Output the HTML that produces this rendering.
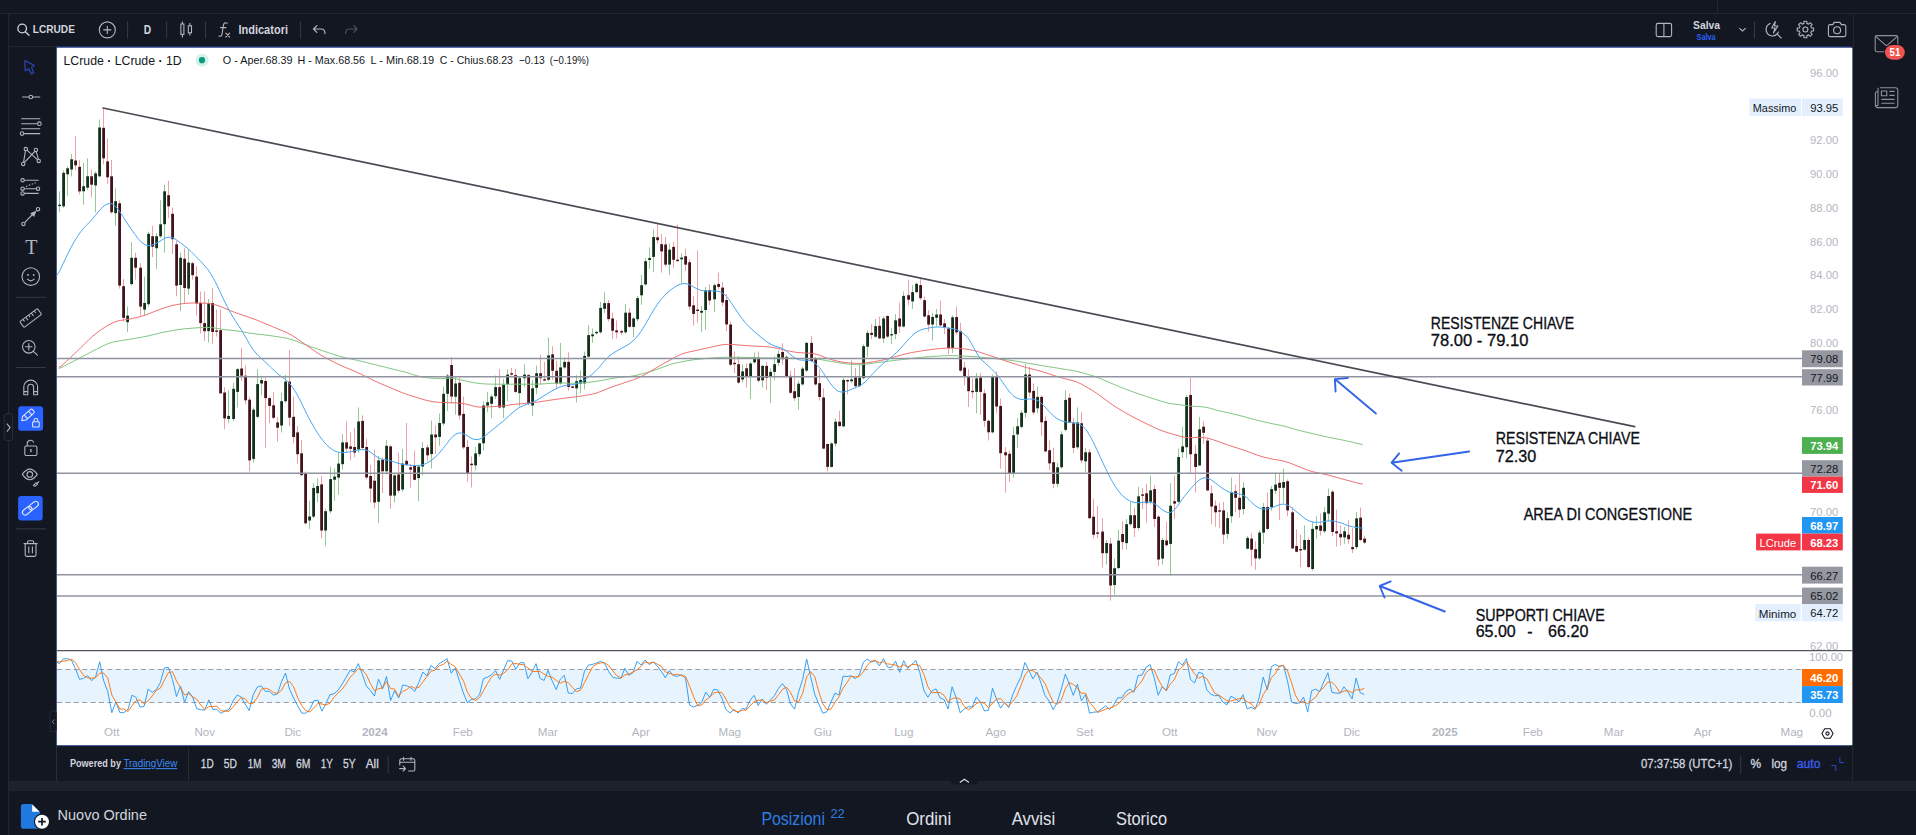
<!DOCTYPE html>
<html lang="it">
<head>
<meta charset="utf-8">
<title>LCRUDE - Grafico</title>
<style>
html,body{margin:0;padding:0;background:#131722;}
body{width:1916px;height:835px;overflow:hidden;position:relative;font-family:"Liberation Sans",sans-serif;}
#app{position:absolute;left:0;top:0;width:1916px;height:835px;background:#131722;overflow:hidden;}
.strip-left{position:absolute;left:0;top:13.5px;width:8px;height:822px;background:#10141d;border-right:1px solid #222631;}
.titlebar{position:absolute;left:0;top:0;width:1916px;height:13px;border-bottom:1px solid #222631;}
.titlebar i{position:absolute;left:1717px;top:0;width:1px;height:13px;background:#222631;}
.topbar{position:absolute;left:9px;top:14px;width:1844px;height:32px;border-bottom:1px solid #222631;border-right:1px solid #222631;}
.leftbar{position:absolute;left:9px;top:47px;width:47px;height:734px;}
.bottombar{position:absolute;left:55.5px;top:746px;width:1797px;height:35px;border-left:1px solid #2a2e39;border-right:1px solid #222631;box-sizing:border-box;}
.resize{position:absolute;left:9px;top:781px;width:1907px;height:10px;background:#1e222d;}
.panel{position:absolute;left:9px;top:791px;width:1907px;height:44px;}
svg.chart{position:absolute;left:0;top:0;}
</style>
</head>
<body>
<div id="app">
<div class="titlebar"><i></i></div>
<div class="strip-left"></div>
<div class="topbar"></div>
<div class="leftbar"></div>
<div class="bottombar"></div>
<div class="resize"></div>
<div class="panel"></div>
<svg class="chart" width="1916" height="835" viewBox="0 0 1916 835" font-family="'Liberation Sans', sans-serif">
<rect x="56.1" y="46.2" width="1794.9" height="700" fill="#1b3278"/>
<rect x="56.8" y="47.7" width="1795.6" height="697.5" fill="#ffffff"/>
<rect x="57" y="669" width="1745" height="33.5" fill="#e8f4fd"/>
<line x1="57" y1="669.5" x2="1802" y2="669.5" stroke="#9a9da7" stroke-width="1" stroke-dasharray="5 3.4"/>
<line x1="57" y1="702.5" x2="1802" y2="702.5" stroke="#9a9da7" stroke-width="1" stroke-dasharray="5 3.4"/>
<rect x="59" y="191.3" width="1" height="21.0" fill="#93c997"/>
<rect x="58.2" y="204.7" width="2.8" height="1.4" fill="#12301a"/>
<rect x="63" y="170.4" width="1" height="37.4" fill="#93c997"/>
<rect x="62.2" y="172.8" width="2.8" height="33.5" fill="#12301a"/>
<rect x="67" y="166.5" width="1" height="29.3" fill="#93c997"/>
<rect x="66.2" y="168.3" width="2.8" height="6.0" fill="#12301a"/>
<rect x="71" y="153.9" width="1" height="22.5" fill="#93c997"/>
<rect x="70.2" y="159.3" width="2.8" height="10.2" fill="#12301a"/>
<rect x="75" y="135.9" width="1" height="34.4" fill="#eea0a6"/>
<rect x="74.2" y="160.5" width="2.8" height="4.8" fill="#42131b"/>
<rect x="79" y="159.9" width="1" height="34.4" fill="#eea0a6"/>
<rect x="78.2" y="166.8" width="2.8" height="24.6" fill="#42131b"/>
<rect x="83" y="162.9" width="1" height="41.9" fill="#93c997"/>
<rect x="82.2" y="186.2" width="2.8" height="5.1" fill="#12301a"/>
<rect x="87" y="158.4" width="1" height="31.4" fill="#93c997"/>
<rect x="86.2" y="176.3" width="2.8" height="11.4" fill="#12301a"/>
<rect x="91" y="169.5" width="1" height="27.8" fill="#eea0a6"/>
<rect x="90.2" y="176.3" width="2.8" height="8.4" fill="#42131b"/>
<rect x="95" y="171.3" width="1" height="41.0" fill="#93c997"/>
<rect x="94.2" y="173.4" width="2.8" height="12.0" fill="#12301a"/>
<rect x="99" y="119.5" width="1" height="57.8" fill="#93c997"/>
<rect x="98.2" y="127.5" width="2.8" height="48.8" fill="#12301a"/>
<rect x="103" y="108.4" width="1" height="56.0" fill="#eea0a6"/>
<rect x="102.2" y="127.8" width="2.8" height="30.5" fill="#42131b"/>
<rect x="107" y="138.3" width="1" height="45.5" fill="#eea0a6"/>
<rect x="106.2" y="161.4" width="2.8" height="15.9" fill="#42131b"/>
<rect x="111" y="159.9" width="1" height="53.9" fill="#eea0a6"/>
<rect x="110.2" y="176.3" width="2.8" height="35.9" fill="#42131b"/>
<rect x="115" y="188.3" width="1" height="37.4" fill="#93c997"/>
<rect x="114.2" y="201.2" width="2.8" height="12.0" fill="#12301a"/>
<rect x="119" y="200.3" width="1" height="88.3" fill="#eea0a6"/>
<rect x="118.2" y="203.3" width="2.8" height="82.3" fill="#42131b"/>
<rect x="123" y="279.0" width="1" height="42.5" fill="#eea0a6"/>
<rect x="122.2" y="286.2" width="2.8" height="31.7" fill="#42131b"/>
<rect x="127" y="306.6" width="1" height="25.4" fill="#93c997"/>
<rect x="126.2" y="315.6" width="2.8" height="6.6" fill="#12301a"/>
<rect x="131" y="242.2" width="1" height="43.4" fill="#93c997"/>
<rect x="130.2" y="257.8" width="2.8" height="26.3" fill="#12301a"/>
<rect x="135" y="252.7" width="1" height="26.9" fill="#eea0a6"/>
<rect x="134.2" y="257.8" width="2.8" height="9.9" fill="#42131b"/>
<rect x="140" y="263.2" width="1" height="52.4" fill="#eea0a6"/>
<rect x="139.2" y="267.7" width="2.8" height="38.9" fill="#42131b"/>
<rect x="144" y="276.6" width="1" height="38.9" fill="#93c997"/>
<rect x="143.2" y="303.0" width="2.8" height="6.6" fill="#12301a"/>
<rect x="148" y="231.7" width="1" height="74.9" fill="#93c997"/>
<rect x="147.2" y="233.8" width="2.8" height="70.4" fill="#12301a"/>
<rect x="152" y="225.7" width="1" height="31.4" fill="#eea0a6"/>
<rect x="151.2" y="236.2" width="2.8" height="10.5" fill="#42131b"/>
<rect x="156" y="233.2" width="1" height="35.9" fill="#93c997"/>
<rect x="155.2" y="236.2" width="2.8" height="12.0" fill="#12301a"/>
<rect x="160" y="200.3" width="1" height="37.4" fill="#93c997"/>
<rect x="159.2" y="224.3" width="2.8" height="12.0" fill="#12301a"/>
<rect x="164" y="184.7" width="1" height="68.0" fill="#93c997"/>
<rect x="163.2" y="191.3" width="2.8" height="32.9" fill="#12301a"/>
<rect x="168" y="180.8" width="1" height="37.4" fill="#eea0a6"/>
<rect x="167.2" y="195.2" width="2.8" height="11.1" fill="#42131b"/>
<rect x="172" y="207.8" width="1" height="46.4" fill="#eea0a6"/>
<rect x="171.2" y="213.8" width="2.8" height="25.4" fill="#42131b"/>
<rect x="176" y="240.7" width="1" height="55.4" fill="#eea0a6"/>
<rect x="175.2" y="244.3" width="2.8" height="41.3" fill="#42131b"/>
<rect x="180" y="252.7" width="1" height="58.4" fill="#93c997"/>
<rect x="179.2" y="257.8" width="2.8" height="27.2" fill="#12301a"/>
<rect x="184" y="248.2" width="1" height="55.4" fill="#eea0a6"/>
<rect x="183.2" y="258.7" width="2.8" height="29.3" fill="#42131b"/>
<rect x="188" y="249.7" width="1" height="44.9" fill="#93c997"/>
<rect x="187.2" y="262.6" width="2.8" height="26.0" fill="#12301a"/>
<rect x="192" y="261.7" width="1" height="18.0" fill="#eea0a6"/>
<rect x="191.2" y="263.2" width="2.8" height="12.0" fill="#42131b"/>
<rect x="196" y="266.2" width="1" height="49.4" fill="#eea0a6"/>
<rect x="195.2" y="276.6" width="2.8" height="26.9" fill="#42131b"/>
<rect x="200" y="291.6" width="1" height="41.9" fill="#eea0a6"/>
<rect x="199.2" y="303.0" width="2.8" height="20.1" fill="#42131b"/>
<rect x="204" y="291.6" width="1" height="49.4" fill="#eea0a6"/>
<rect x="203.2" y="323.1" width="2.8" height="8.1" fill="#42131b"/>
<rect x="208" y="299.1" width="1" height="43.4" fill="#93c997"/>
<rect x="207.2" y="303.0" width="2.8" height="28.1" fill="#12301a"/>
<rect x="212" y="288.0" width="1" height="56.0" fill="#eea0a6"/>
<rect x="211.2" y="303.0" width="2.8" height="29.0" fill="#42131b"/>
<rect x="216" y="309.6" width="1" height="26.9" fill="#eea0a6"/>
<rect x="215.2" y="330.4" width="2.8" height="1.4" fill="#42131b"/>
<rect x="220" y="309.3" width="1" height="84.1" fill="#eea0a6"/>
<rect x="219.2" y="330.2" width="2.8" height="63.2" fill="#42131b"/>
<rect x="224" y="387.2" width="1" height="42.1" fill="#eea0a6"/>
<rect x="223.2" y="392.5" width="2.8" height="25.9" fill="#42131b"/>
<rect x="228" y="390.3" width="1" height="32.7" fill="#93c997"/>
<rect x="227.2" y="415.9" width="2.8" height="3.1" fill="#12301a"/>
<rect x="233" y="382.6" width="1" height="38.9" fill="#93c997"/>
<rect x="232.2" y="388.8" width="2.8" height="30.2" fill="#12301a"/>
<rect x="237" y="367.9" width="1" height="39.6" fill="#93c997"/>
<rect x="236.2" y="369.2" width="2.8" height="22.7" fill="#12301a"/>
<rect x="241" y="348.3" width="1" height="32.7" fill="#eea0a6"/>
<rect x="240.2" y="368.5" width="2.8" height="7.2" fill="#42131b"/>
<rect x="245" y="365.4" width="1" height="38.9" fill="#eea0a6"/>
<rect x="244.2" y="375.7" width="2.8" height="24.6" fill="#42131b"/>
<rect x="249" y="396.6" width="1" height="74.8" fill="#eea0a6"/>
<rect x="248.2" y="399.7" width="2.8" height="60.7" fill="#42131b"/>
<rect x="253" y="407.5" width="1" height="55.1" fill="#93c997"/>
<rect x="252.2" y="409.7" width="2.8" height="49.2" fill="#12301a"/>
<rect x="257" y="369.2" width="1" height="49.2" fill="#93c997"/>
<rect x="256.2" y="384.1" width="2.8" height="32.7" fill="#12301a"/>
<rect x="261" y="376.3" width="1" height="18.7" fill="#93c997"/>
<rect x="260.2" y="380.1" width="2.8" height="3.4" fill="#12301a"/>
<rect x="265" y="377.9" width="1" height="70.1" fill="#eea0a6"/>
<rect x="264.2" y="381.0" width="2.8" height="17.1" fill="#42131b"/>
<rect x="269" y="396.6" width="1" height="26.5" fill="#eea0a6"/>
<rect x="268.2" y="398.1" width="2.8" height="7.8" fill="#42131b"/>
<rect x="273" y="391.9" width="1" height="27.1" fill="#eea0a6"/>
<rect x="272.2" y="405.3" width="2.8" height="12.5" fill="#42131b"/>
<rect x="277" y="416.8" width="1" height="24.9" fill="#eea0a6"/>
<rect x="276.2" y="422.4" width="2.8" height="5.3" fill="#42131b"/>
<rect x="281" y="392.8" width="1" height="39.6" fill="#93c997"/>
<rect x="280.2" y="401.2" width="2.8" height="24.3" fill="#12301a"/>
<rect x="285" y="374.8" width="1" height="28.0" fill="#93c997"/>
<rect x="284.2" y="381.6" width="2.8" height="19.6" fill="#12301a"/>
<rect x="289" y="349.8" width="1" height="76.3" fill="#eea0a6"/>
<rect x="288.2" y="381.6" width="2.8" height="36.1" fill="#42131b"/>
<rect x="293" y="396.6" width="1" height="46.7" fill="#eea0a6"/>
<rect x="292.2" y="416.8" width="2.8" height="20.2" fill="#42131b"/>
<rect x="297" y="426.2" width="1" height="37.4" fill="#eea0a6"/>
<rect x="296.2" y="432.4" width="2.8" height="21.8" fill="#42131b"/>
<rect x="301" y="440.2" width="1" height="35.8" fill="#eea0a6"/>
<rect x="300.2" y="453.3" width="2.8" height="21.8" fill="#42131b"/>
<rect x="305" y="471.3" width="1" height="53.0" fill="#eea0a6"/>
<rect x="304.2" y="473.5" width="2.8" height="49.8" fill="#42131b"/>
<rect x="309" y="500.9" width="1" height="28.0" fill="#93c997"/>
<rect x="308.2" y="516.5" width="2.8" height="4.0" fill="#12301a"/>
<rect x="313" y="483.2" width="1" height="34.9" fill="#93c997"/>
<rect x="312.2" y="487.9" width="2.8" height="28.7" fill="#12301a"/>
<rect x="317" y="478.2" width="1" height="24.3" fill="#93c997"/>
<rect x="316.2" y="486.0" width="2.8" height="7.2" fill="#12301a"/>
<rect x="321" y="476.0" width="1" height="62.3" fill="#eea0a6"/>
<rect x="320.2" y="484.4" width="2.8" height="46.1" fill="#42131b"/>
<rect x="325" y="508.7" width="1" height="37.4" fill="#93c997"/>
<rect x="324.2" y="511.2" width="2.8" height="19.3" fill="#12301a"/>
<rect x="330" y="466.7" width="1" height="46.7" fill="#93c997"/>
<rect x="329.2" y="479.1" width="2.8" height="32.1" fill="#12301a"/>
<rect x="334" y="468.2" width="1" height="32.7" fill="#93c997"/>
<rect x="333.2" y="476.6" width="2.8" height="3.1" fill="#12301a"/>
<rect x="338" y="452.6" width="1" height="42.1" fill="#93c997"/>
<rect x="337.2" y="463.6" width="2.8" height="14.0" fill="#12301a"/>
<rect x="342" y="434.0" width="1" height="35.8" fill="#93c997"/>
<rect x="341.2" y="442.4" width="2.8" height="21.8" fill="#12301a"/>
<rect x="346" y="421.5" width="1" height="31.2" fill="#eea0a6"/>
<rect x="345.2" y="442.4" width="2.8" height="6.2" fill="#42131b"/>
<rect x="350" y="432.4" width="1" height="28.0" fill="#eea0a6"/>
<rect x="349.2" y="446.4" width="2.8" height="2.5" fill="#42131b"/>
<rect x="354" y="427.7" width="1" height="29.6" fill="#eea0a6"/>
<rect x="353.2" y="447.0" width="2.8" height="5.6" fill="#42131b"/>
<rect x="358" y="407.5" width="1" height="45.2" fill="#93c997"/>
<rect x="357.2" y="421.5" width="2.8" height="28.0" fill="#12301a"/>
<rect x="362" y="415.3" width="1" height="34.3" fill="#eea0a6"/>
<rect x="361.2" y="420.9" width="2.8" height="27.1" fill="#42131b"/>
<rect x="366" y="438.6" width="1" height="40.5" fill="#eea0a6"/>
<rect x="365.2" y="447.0" width="2.8" height="30.5" fill="#42131b"/>
<rect x="370" y="465.1" width="1" height="37.4" fill="#eea0a6"/>
<rect x="369.2" y="476.0" width="2.8" height="12.5" fill="#42131b"/>
<rect x="374" y="449.5" width="1" height="59.2" fill="#eea0a6"/>
<rect x="373.2" y="480.7" width="2.8" height="21.8" fill="#42131b"/>
<rect x="378" y="455.8" width="1" height="67.0" fill="#93c997"/>
<rect x="377.2" y="460.4" width="2.8" height="41.4" fill="#12301a"/>
<rect x="382" y="457.3" width="1" height="35.8" fill="#eea0a6"/>
<rect x="381.2" y="459.8" width="2.8" height="11.5" fill="#42131b"/>
<rect x="386" y="440.2" width="1" height="34.3" fill="#93c997"/>
<rect x="385.2" y="445.8" width="2.8" height="25.5" fill="#12301a"/>
<rect x="390" y="444.9" width="1" height="63.9" fill="#eea0a6"/>
<rect x="389.2" y="446.4" width="2.8" height="49.2" fill="#42131b"/>
<rect x="394" y="472.9" width="1" height="29.6" fill="#93c997"/>
<rect x="393.2" y="475.4" width="2.8" height="20.2" fill="#12301a"/>
<rect x="398" y="452.6" width="1" height="40.5" fill="#eea0a6"/>
<rect x="397.2" y="474.5" width="2.8" height="16.2" fill="#42131b"/>
<rect x="402" y="448.9" width="1" height="42.7" fill="#93c997"/>
<rect x="401.2" y="463.6" width="2.8" height="25.9" fill="#12301a"/>
<rect x="406" y="423.0" width="1" height="43.1" fill="#eea0a6"/>
<rect x="405.2" y="460.8" width="2.8" height="4.1" fill="#42131b"/>
<rect x="410" y="463.7" width="1" height="24.0" fill="#eea0a6"/>
<rect x="409.2" y="467.3" width="2.8" height="2.4" fill="#42131b"/>
<rect x="414" y="450.5" width="1" height="29.9" fill="#eea0a6"/>
<rect x="413.2" y="465.4" width="2.8" height="14.4" fill="#42131b"/>
<rect x="418" y="464.9" width="1" height="36.4" fill="#93c997"/>
<rect x="417.2" y="466.6" width="2.8" height="11.5" fill="#12301a"/>
<rect x="422" y="442.2" width="1" height="33.5" fill="#93c997"/>
<rect x="421.2" y="448.1" width="2.8" height="18.4" fill="#12301a"/>
<rect x="427" y="444.6" width="1" height="16.8" fill="#eea0a6"/>
<rect x="426.2" y="447.4" width="2.8" height="7.9" fill="#42131b"/>
<rect x="431" y="420.6" width="1" height="47.9" fill="#93c997"/>
<rect x="430.2" y="434.5" width="2.8" height="19.6" fill="#12301a"/>
<rect x="435" y="425.4" width="1" height="28.7" fill="#eea0a6"/>
<rect x="434.2" y="434.5" width="2.8" height="2.9" fill="#42131b"/>
<rect x="439" y="413.4" width="1" height="32.3" fill="#93c997"/>
<rect x="438.2" y="423.0" width="2.8" height="13.9" fill="#12301a"/>
<rect x="443" y="386.6" width="1" height="38.8" fill="#93c997"/>
<rect x="442.2" y="393.8" width="2.8" height="29.7" fill="#12301a"/>
<rect x="447" y="373.9" width="1" height="37.1" fill="#93c997"/>
<rect x="446.2" y="375.6" width="2.8" height="18.2" fill="#12301a"/>
<rect x="451" y="357.1" width="1" height="46.7" fill="#eea0a6"/>
<rect x="450.2" y="365.0" width="2.8" height="31.6" fill="#42131b"/>
<rect x="455" y="377.5" width="1" height="37.1" fill="#93c997"/>
<rect x="454.2" y="383.5" width="2.8" height="13.2" fill="#12301a"/>
<rect x="459" y="377.5" width="1" height="41.9" fill="#eea0a6"/>
<rect x="458.2" y="382.8" width="2.8" height="32.6" fill="#42131b"/>
<rect x="463" y="396.6" width="1" height="52.7" fill="#eea0a6"/>
<rect x="462.2" y="413.9" width="2.8" height="33.5" fill="#42131b"/>
<rect x="467" y="439.8" width="1" height="41.9" fill="#eea0a6"/>
<rect x="466.2" y="446.9" width="2.8" height="26.3" fill="#42131b"/>
<rect x="471" y="456.5" width="1" height="31.1" fill="#eea0a6"/>
<rect x="470.2" y="463.7" width="2.8" height="1.4" fill="#42131b"/>
<rect x="475" y="446.9" width="1" height="23.5" fill="#93c997"/>
<rect x="474.2" y="453.4" width="2.8" height="12.0" fill="#12301a"/>
<rect x="479" y="442.6" width="1" height="13.9" fill="#93c997"/>
<rect x="478.2" y="443.4" width="2.8" height="10.8" fill="#12301a"/>
<rect x="483" y="401.4" width="1" height="49.1" fill="#93c997"/>
<rect x="482.2" y="405.5" width="2.8" height="37.8" fill="#12301a"/>
<rect x="487" y="391.9" width="1" height="20.4" fill="#93c997"/>
<rect x="486.2" y="402.2" width="2.8" height="3.4" fill="#12301a"/>
<rect x="491" y="394.3" width="1" height="24.0" fill="#93c997"/>
<rect x="490.2" y="396.6" width="2.8" height="7.2" fill="#12301a"/>
<rect x="495" y="375.6" width="1" height="23.5" fill="#93c997"/>
<rect x="494.2" y="387.1" width="2.8" height="9.1" fill="#12301a"/>
<rect x="499" y="369.1" width="1" height="39.5" fill="#eea0a6"/>
<rect x="498.2" y="387.1" width="2.8" height="20.4" fill="#42131b"/>
<rect x="503" y="378.7" width="1" height="39.5" fill="#93c997"/>
<rect x="502.2" y="384.7" width="2.8" height="22.8" fill="#12301a"/>
<rect x="507" y="369.1" width="1" height="32.3" fill="#93c997"/>
<rect x="506.2" y="374.6" width="2.8" height="9.6" fill="#12301a"/>
<rect x="511" y="367.9" width="1" height="7.7" fill="#eea0a6"/>
<rect x="510.2" y="373.2" width="2.8" height="1.4" fill="#42131b"/>
<rect x="515" y="369.1" width="1" height="24.0" fill="#eea0a6"/>
<rect x="514.2" y="375.1" width="2.8" height="16.8" fill="#42131b"/>
<rect x="519" y="376.3" width="1" height="29.9" fill="#93c997"/>
<rect x="518.2" y="378.2" width="2.8" height="14.9" fill="#12301a"/>
<rect x="524" y="364.3" width="1" height="22.8" fill="#93c997"/>
<rect x="523.2" y="374.6" width="2.8" height="3.6" fill="#12301a"/>
<rect x="528" y="373.9" width="1" height="31.1" fill="#eea0a6"/>
<rect x="527.2" y="375.1" width="2.8" height="28.7" fill="#42131b"/>
<rect x="532" y="379.9" width="1" height="35.9" fill="#93c997"/>
<rect x="531.2" y="388.3" width="2.8" height="17.2" fill="#12301a"/>
<rect x="536" y="365.5" width="1" height="28.7" fill="#93c997"/>
<rect x="535.2" y="373.2" width="2.8" height="14.6" fill="#12301a"/>
<rect x="540" y="354.7" width="1" height="29.9" fill="#eea0a6"/>
<rect x="539.2" y="373.2" width="2.8" height="5.0" fill="#42131b"/>
<rect x="544" y="361.9" width="1" height="19.2" fill="#eea0a6"/>
<rect x="543.2" y="379.2" width="2.8" height="1.4" fill="#42131b"/>
<rect x="548" y="337.5" width="1" height="43.6" fill="#93c997"/>
<rect x="547.2" y="355.4" width="2.8" height="24.4" fill="#12301a"/>
<rect x="552" y="346.3" width="1" height="33.5" fill="#eea0a6"/>
<rect x="551.2" y="354.3" width="2.8" height="16.5" fill="#42131b"/>
<rect x="556" y="360.7" width="1" height="28.7" fill="#eea0a6"/>
<rect x="555.2" y="370.8" width="2.8" height="12.7" fill="#42131b"/>
<rect x="560" y="342.8" width="1" height="41.9" fill="#93c997"/>
<rect x="559.2" y="367.4" width="2.8" height="16.0" fill="#12301a"/>
<rect x="564" y="358.3" width="1" height="10.8" fill="#93c997"/>
<rect x="563.2" y="361.9" width="2.8" height="5.5" fill="#12301a"/>
<rect x="568" y="352.3" width="1" height="38.3" fill="#eea0a6"/>
<rect x="567.2" y="361.9" width="2.8" height="25.1" fill="#42131b"/>
<rect x="572" y="385.9" width="1" height="2.4" fill="#eea0a6"/>
<rect x="571.2" y="386.4" width="2.8" height="1.4" fill="#42131b"/>
<rect x="576" y="375.1" width="1" height="27.5" fill="#93c997"/>
<rect x="575.2" y="381.1" width="2.8" height="7.2" fill="#12301a"/>
<rect x="580" y="370.3" width="1" height="22.8" fill="#93c997"/>
<rect x="579.2" y="379.9" width="2.8" height="3.6" fill="#12301a"/>
<rect x="584" y="351.6" width="1" height="37.8" fill="#93c997"/>
<rect x="583.2" y="355.9" width="2.8" height="27.5" fill="#12301a"/>
<rect x="588" y="325.3" width="1" height="31.9" fill="#93c997"/>
<rect x="587.2" y="335.1" width="2.8" height="21.6" fill="#12301a"/>
<rect x="592" y="328.4" width="1" height="14.4" fill="#93c997"/>
<rect x="591.2" y="334.4" width="2.8" height="1.9" fill="#12301a"/>
<rect x="596" y="330.8" width="1" height="3.6" fill="#93c997"/>
<rect x="595.2" y="331.9" width="2.8" height="1.4" fill="#12301a"/>
<rect x="600" y="301.7" width="1" height="31.9" fill="#93c997"/>
<rect x="599.2" y="307.9" width="2.8" height="24.4" fill="#12301a"/>
<rect x="604" y="292.1" width="1" height="21.1" fill="#93c997"/>
<rect x="603.2" y="303.1" width="2.8" height="5.7" fill="#12301a"/>
<rect x="608" y="300.0" width="1" height="21.6" fill="#eea0a6"/>
<rect x="607.2" y="303.1" width="2.8" height="16.0" fill="#42131b"/>
<rect x="612" y="312.7" width="1" height="26.3" fill="#eea0a6"/>
<rect x="611.2" y="318.5" width="2.8" height="12.2" fill="#42131b"/>
<rect x="616" y="320.4" width="1" height="18.0" fill="#eea0a6"/>
<rect x="615.2" y="330.4" width="2.8" height="1.9" fill="#42131b"/>
<rect x="621" y="329.5" width="1" height="5.3" fill="#eea0a6"/>
<rect x="620.2" y="331.1" width="2.8" height="1.4" fill="#42131b"/>
<rect x="625" y="304.1" width="1" height="29.5" fill="#93c997"/>
<rect x="624.2" y="312.7" width="2.8" height="19.6" fill="#12301a"/>
<rect x="629" y="308.4" width="1" height="19.2" fill="#eea0a6"/>
<rect x="628.2" y="312.7" width="2.8" height="14.1" fill="#42131b"/>
<rect x="633" y="316.8" width="1" height="20.4" fill="#93c997"/>
<rect x="632.2" y="318.5" width="2.8" height="8.4" fill="#12301a"/>
<rect x="637" y="296.0" width="1" height="25.6" fill="#93c997"/>
<rect x="636.2" y="298.1" width="2.8" height="21.1" fill="#12301a"/>
<rect x="641" y="274.9" width="1" height="29.9" fill="#93c997"/>
<rect x="640.2" y="285.2" width="2.8" height="10.1" fill="#12301a"/>
<rect x="645" y="258.1" width="1" height="27.5" fill="#93c997"/>
<rect x="644.2" y="261.2" width="2.8" height="23.2" fill="#12301a"/>
<rect x="649" y="247.3" width="1" height="21.6" fill="#93c997"/>
<rect x="648.2" y="258.1" width="2.8" height="1.9" fill="#12301a"/>
<rect x="653" y="229.4" width="1" height="42.6" fill="#93c997"/>
<rect x="652.2" y="237.0" width="2.8" height="19.9" fill="#12301a"/>
<rect x="657" y="223.4" width="1" height="20.4" fill="#eea0a6"/>
<rect x="656.2" y="237.3" width="2.8" height="2.9" fill="#42131b"/>
<rect x="661" y="233.7" width="1" height="38.8" fill="#eea0a6"/>
<rect x="660.2" y="244.2" width="2.8" height="7.2" fill="#42131b"/>
<rect x="665" y="237.0" width="1" height="29.5" fill="#eea0a6"/>
<rect x="664.2" y="244.5" width="2.8" height="20.1" fill="#42131b"/>
<rect x="669" y="243.7" width="1" height="31.1" fill="#93c997"/>
<rect x="668.2" y="249.7" width="2.8" height="14.9" fill="#12301a"/>
<rect x="673" y="241.8" width="1" height="25.9" fill="#eea0a6"/>
<rect x="672.2" y="246.9" width="2.8" height="12.9" fill="#42131b"/>
<rect x="677" y="224.6" width="1" height="37.1" fill="#eea0a6"/>
<rect x="676.2" y="259.7" width="2.8" height="1.4" fill="#42131b"/>
<rect x="681" y="253.3" width="1" height="29.9" fill="#93c997"/>
<rect x="680.2" y="257.6" width="2.8" height="1.7" fill="#12301a"/>
<rect x="685" y="248.5" width="1" height="22.8" fill="#eea0a6"/>
<rect x="684.2" y="256.2" width="2.8" height="8.4" fill="#42131b"/>
<rect x="689" y="259.3" width="1" height="50.3" fill="#eea0a6"/>
<rect x="688.2" y="262.2" width="2.8" height="44.3" fill="#42131b"/>
<rect x="693" y="296.4" width="1" height="29.2" fill="#eea0a6"/>
<rect x="692.2" y="305.3" width="2.8" height="8.6" fill="#42131b"/>
<rect x="697" y="250.4" width="1" height="72.3" fill="#eea0a6"/>
<rect x="696.2" y="309.6" width="2.8" height="1.4" fill="#42131b"/>
<rect x="701" y="306.0" width="1" height="26.3" fill="#93c997"/>
<rect x="700.2" y="310.8" width="2.8" height="1.9" fill="#12301a"/>
<rect x="705" y="286.9" width="1" height="43.1" fill="#93c997"/>
<rect x="704.2" y="290.4" width="2.8" height="19.6" fill="#12301a"/>
<rect x="709" y="284.5" width="1" height="20.4" fill="#eea0a6"/>
<rect x="708.2" y="290.0" width="2.8" height="10.5" fill="#42131b"/>
<rect x="714" y="283.3" width="1" height="28.7" fill="#93c997"/>
<rect x="713.2" y="285.2" width="2.8" height="14.1" fill="#12301a"/>
<rect x="718" y="272.5" width="1" height="16.8" fill="#eea0a6"/>
<rect x="717.2" y="284.0" width="2.8" height="2.9" fill="#42131b"/>
<rect x="722" y="282.1" width="1" height="24.0" fill="#eea0a6"/>
<rect x="721.2" y="287.6" width="2.8" height="14.9" fill="#42131b"/>
<rect x="726" y="294.0" width="1" height="37.1" fill="#eea0a6"/>
<rect x="725.2" y="300.0" width="2.8" height="24.4" fill="#42131b"/>
<rect x="730" y="321.6" width="1" height="44.3" fill="#eea0a6"/>
<rect x="729.2" y="324.5" width="2.8" height="40.2" fill="#42131b"/>
<rect x="734" y="351.5" width="1" height="21.6" fill="#eea0a6"/>
<rect x="733.2" y="362.8" width="2.8" height="1.4" fill="#42131b"/>
<rect x="738" y="356.3" width="1" height="27.5" fill="#eea0a6"/>
<rect x="737.2" y="364.2" width="2.8" height="18.4" fill="#42131b"/>
<rect x="742" y="364.7" width="1" height="18.0" fill="#93c997"/>
<rect x="741.2" y="371.4" width="2.8" height="8.1" fill="#12301a"/>
<rect x="746" y="363.5" width="1" height="24.0" fill="#eea0a6"/>
<rect x="745.2" y="368.3" width="2.8" height="8.4" fill="#42131b"/>
<rect x="750" y="361.6" width="1" height="37.4" fill="#93c997"/>
<rect x="749.2" y="363.5" width="2.8" height="13.2" fill="#12301a"/>
<rect x="754" y="352.7" width="1" height="10.8" fill="#93c997"/>
<rect x="753.2" y="357.5" width="2.8" height="4.8" fill="#12301a"/>
<rect x="758" y="351.5" width="1" height="30.7" fill="#eea0a6"/>
<rect x="757.2" y="357.5" width="2.8" height="23.2" fill="#42131b"/>
<rect x="762" y="364.7" width="1" height="22.8" fill="#93c997"/>
<rect x="761.2" y="365.9" width="2.8" height="14.4" fill="#12301a"/>
<rect x="766" y="361.6" width="1" height="28.3" fill="#eea0a6"/>
<rect x="765.2" y="365.9" width="2.8" height="12.0" fill="#42131b"/>
<rect x="770" y="368.3" width="1" height="34.7" fill="#93c997"/>
<rect x="769.2" y="371.9" width="2.8" height="4.1" fill="#12301a"/>
<rect x="774" y="356.3" width="1" height="24.0" fill="#93c997"/>
<rect x="773.2" y="364.2" width="2.8" height="7.7" fill="#12301a"/>
<rect x="778" y="350.3" width="1" height="15.6" fill="#93c997"/>
<rect x="777.2" y="353.9" width="2.8" height="8.9" fill="#12301a"/>
<rect x="782" y="343.1" width="1" height="21.6" fill="#eea0a6"/>
<rect x="781.2" y="352.0" width="2.8" height="7.2" fill="#42131b"/>
<rect x="786" y="355.5" width="1" height="22.6" fill="#eea0a6"/>
<rect x="785.2" y="356.8" width="2.8" height="20.1" fill="#42131b"/>
<rect x="790" y="370.6" width="1" height="23.1" fill="#eea0a6"/>
<rect x="789.2" y="375.9" width="2.8" height="16.9" fill="#42131b"/>
<rect x="794" y="368.1" width="1" height="32.7" fill="#eea0a6"/>
<rect x="793.2" y="391.2" width="2.8" height="7.0" fill="#42131b"/>
<rect x="798" y="380.7" width="1" height="28.9" fill="#93c997"/>
<rect x="797.2" y="383.7" width="2.8" height="13.3" fill="#12301a"/>
<rect x="802" y="366.8" width="1" height="18.9" fill="#93c997"/>
<rect x="801.2" y="368.6" width="2.8" height="15.8" fill="#12301a"/>
<rect x="806" y="341.7" width="1" height="30.2" fill="#93c997"/>
<rect x="805.2" y="342.9" width="2.8" height="27.7" fill="#12301a"/>
<rect x="811" y="335.9" width="1" height="25.9" fill="#eea0a6"/>
<rect x="810.2" y="342.9" width="2.8" height="18.1" fill="#42131b"/>
<rect x="815" y="356.8" width="1" height="28.9" fill="#eea0a6"/>
<rect x="814.2" y="358.5" width="2.8" height="25.9" fill="#42131b"/>
<rect x="819" y="369.3" width="1" height="31.4" fill="#eea0a6"/>
<rect x="818.2" y="383.2" width="2.8" height="13.8" fill="#42131b"/>
<rect x="823" y="388.2" width="1" height="60.9" fill="#eea0a6"/>
<rect x="822.2" y="397.5" width="2.8" height="51.1" fill="#42131b"/>
<rect x="827" y="443.5" width="1" height="27.7" fill="#eea0a6"/>
<rect x="826.2" y="444.0" width="2.8" height="22.9" fill="#42131b"/>
<rect x="831" y="442.3" width="1" height="25.2" fill="#93c997"/>
<rect x="830.2" y="443.5" width="2.8" height="23.4" fill="#12301a"/>
<rect x="835" y="418.4" width="1" height="27.7" fill="#93c997"/>
<rect x="834.2" y="421.7" width="2.8" height="21.9" fill="#12301a"/>
<rect x="839" y="410.8" width="1" height="16.3" fill="#eea0a6"/>
<rect x="838.2" y="421.7" width="2.8" height="4.3" fill="#42131b"/>
<rect x="843" y="378.1" width="1" height="49.0" fill="#93c997"/>
<rect x="842.2" y="379.9" width="2.8" height="46.5" fill="#12301a"/>
<rect x="847" y="379.4" width="1" height="15.1" fill="#eea0a6"/>
<rect x="846.2" y="380.0" width="2.8" height="1.4" fill="#42131b"/>
<rect x="851" y="360.5" width="1" height="22.6" fill="#93c997"/>
<rect x="850.2" y="379.4" width="2.8" height="1.8" fill="#12301a"/>
<rect x="855" y="368.1" width="1" height="20.1" fill="#eea0a6"/>
<rect x="854.2" y="377.4" width="2.8" height="8.8" fill="#42131b"/>
<rect x="859" y="364.3" width="1" height="22.6" fill="#93c997"/>
<rect x="858.2" y="377.6" width="2.8" height="8.6" fill="#12301a"/>
<rect x="863" y="344.2" width="1" height="35.2" fill="#93c997"/>
<rect x="862.2" y="346.2" width="2.8" height="31.9" fill="#12301a"/>
<rect x="867" y="330.4" width="1" height="26.4" fill="#93c997"/>
<rect x="866.2" y="332.9" width="2.8" height="13.8" fill="#12301a"/>
<rect x="871" y="324.1" width="1" height="15.1" fill="#eea0a6"/>
<rect x="870.2" y="332.9" width="2.8" height="2.0" fill="#42131b"/>
<rect x="875" y="319.0" width="1" height="18.9" fill="#93c997"/>
<rect x="874.2" y="326.1" width="2.8" height="10.6" fill="#12301a"/>
<rect x="879" y="316.5" width="1" height="22.6" fill="#eea0a6"/>
<rect x="878.2" y="325.8" width="2.8" height="12.6" fill="#42131b"/>
<rect x="883" y="316.5" width="1" height="26.4" fill="#93c997"/>
<rect x="882.2" y="318.5" width="2.8" height="19.9" fill="#12301a"/>
<rect x="887" y="315.3" width="1" height="22.6" fill="#eea0a6"/>
<rect x="886.2" y="316.0" width="2.8" height="20.6" fill="#42131b"/>
<rect x="891" y="327.8" width="1" height="16.3" fill="#93c997"/>
<rect x="890.2" y="334.1" width="2.8" height="1.3" fill="#12301a"/>
<rect x="895" y="314.0" width="1" height="25.2" fill="#93c997"/>
<rect x="894.2" y="320.3" width="2.8" height="13.8" fill="#12301a"/>
<rect x="899" y="302.7" width="1" height="30.2" fill="#eea0a6"/>
<rect x="898.2" y="318.5" width="2.8" height="8.0" fill="#42131b"/>
<rect x="903" y="291.4" width="1" height="36.0" fill="#93c997"/>
<rect x="902.2" y="295.9" width="2.8" height="30.7" fill="#12301a"/>
<rect x="908" y="279.6" width="1" height="25.7" fill="#eea0a6"/>
<rect x="907.2" y="295.2" width="2.8" height="4.5" fill="#42131b"/>
<rect x="912" y="285.1" width="1" height="23.9" fill="#93c997"/>
<rect x="911.2" y="292.1" width="2.8" height="9.3" fill="#12301a"/>
<rect x="916" y="282.6" width="1" height="10.6" fill="#93c997"/>
<rect x="915.2" y="283.8" width="2.8" height="8.3" fill="#12301a"/>
<rect x="920" y="277.5" width="1" height="22.6" fill="#eea0a6"/>
<rect x="919.2" y="285.1" width="2.8" height="13.1" fill="#42131b"/>
<rect x="924" y="296.4" width="1" height="21.4" fill="#eea0a6"/>
<rect x="923.2" y="300.2" width="2.8" height="16.3" fill="#42131b"/>
<rect x="928" y="310.2" width="1" height="21.4" fill="#eea0a6"/>
<rect x="927.2" y="315.3" width="2.8" height="9.3" fill="#42131b"/>
<rect x="932" y="312.8" width="1" height="27.7" fill="#93c997"/>
<rect x="931.2" y="317.0" width="2.8" height="7.5" fill="#12301a"/>
<rect x="936" y="309.0" width="1" height="17.6" fill="#93c997"/>
<rect x="935.2" y="314.5" width="2.8" height="3.3" fill="#12301a"/>
<rect x="940" y="300.7" width="1" height="25.9" fill="#eea0a6"/>
<rect x="939.2" y="314.5" width="2.8" height="10.8" fill="#42131b"/>
<rect x="944" y="319.0" width="1" height="15.1" fill="#eea0a6"/>
<rect x="943.2" y="323.3" width="2.8" height="4.0" fill="#42131b"/>
<rect x="948" y="326.6" width="1" height="27.7" fill="#eea0a6"/>
<rect x="947.2" y="328.4" width="2.8" height="19.6" fill="#42131b"/>
<rect x="952" y="315.3" width="1" height="37.7" fill="#93c997"/>
<rect x="951.2" y="317.3" width="2.8" height="30.7" fill="#12301a"/>
<rect x="956" y="306.5" width="1" height="27.7" fill="#eea0a6"/>
<rect x="955.2" y="317.0" width="2.8" height="15.3" fill="#42131b"/>
<rect x="960" y="322.8" width="1" height="49.0" fill="#eea0a6"/>
<rect x="959.2" y="331.1" width="2.8" height="39.5" fill="#42131b"/>
<rect x="964" y="361.8" width="1" height="23.9" fill="#eea0a6"/>
<rect x="963.2" y="367.6" width="2.8" height="9.3" fill="#42131b"/>
<rect x="968" y="369.3" width="1" height="37.7" fill="#eea0a6"/>
<rect x="967.2" y="376.1" width="2.8" height="15.1" fill="#42131b"/>
<rect x="972" y="378.1" width="1" height="20.1" fill="#eea0a6"/>
<rect x="971.2" y="390.8" width="2.8" height="1.4" fill="#42131b"/>
<rect x="976" y="373.0" width="1" height="40.4" fill="#93c997"/>
<rect x="975.2" y="378.4" width="2.8" height="13.5" fill="#12301a"/>
<rect x="980" y="373.0" width="1" height="41.9" fill="#eea0a6"/>
<rect x="979.2" y="377.5" width="2.8" height="14.4" fill="#42131b"/>
<rect x="984" y="389.4" width="1" height="37.4" fill="#eea0a6"/>
<rect x="983.2" y="393.3" width="2.8" height="27.5" fill="#42131b"/>
<rect x="988" y="419.4" width="1" height="21.0" fill="#eea0a6"/>
<rect x="987.2" y="420.9" width="2.8" height="11.4" fill="#42131b"/>
<rect x="992" y="374.5" width="1" height="59.0" fill="#93c997"/>
<rect x="991.2" y="376.6" width="2.8" height="55.7" fill="#12301a"/>
<rect x="996" y="371.5" width="1" height="41.9" fill="#eea0a6"/>
<rect x="995.2" y="376.6" width="2.8" height="29.9" fill="#42131b"/>
<rect x="1000" y="398.4" width="1" height="70.4" fill="#eea0a6"/>
<rect x="999.2" y="405.9" width="2.8" height="47.3" fill="#42131b"/>
<rect x="1005" y="447.2" width="1" height="45.5" fill="#eea0a6"/>
<rect x="1004.2" y="452.3" width="2.8" height="3.0" fill="#42131b"/>
<rect x="1009" y="450.8" width="1" height="31.4" fill="#eea0a6"/>
<rect x="1008.2" y="453.8" width="2.8" height="19.5" fill="#42131b"/>
<rect x="1013" y="426.9" width="1" height="50.9" fill="#93c997"/>
<rect x="1012.2" y="435.2" width="2.8" height="38.0" fill="#12301a"/>
<rect x="1017" y="417.9" width="1" height="29.9" fill="#93c997"/>
<rect x="1016.2" y="426.3" width="2.8" height="8.1" fill="#12301a"/>
<rect x="1021" y="410.4" width="1" height="18.0" fill="#93c997"/>
<rect x="1020.2" y="412.8" width="2.8" height="14.1" fill="#12301a"/>
<rect x="1025" y="364.0" width="1" height="53.9" fill="#93c997"/>
<rect x="1024.2" y="374.5" width="2.8" height="38.3" fill="#12301a"/>
<rect x="1029" y="367.0" width="1" height="29.9" fill="#eea0a6"/>
<rect x="1028.2" y="374.5" width="2.8" height="18.0" fill="#42131b"/>
<rect x="1033" y="383.4" width="1" height="31.4" fill="#eea0a6"/>
<rect x="1032.2" y="390.9" width="2.8" height="21.6" fill="#42131b"/>
<rect x="1037" y="386.4" width="1" height="26.9" fill="#93c997"/>
<rect x="1036.2" y="396.9" width="2.8" height="11.4" fill="#12301a"/>
<rect x="1041" y="395.4" width="1" height="40.4" fill="#eea0a6"/>
<rect x="1040.2" y="396.9" width="2.8" height="25.4" fill="#42131b"/>
<rect x="1045" y="416.4" width="1" height="35.9" fill="#eea0a6"/>
<rect x="1044.2" y="420.9" width="2.8" height="30.5" fill="#42131b"/>
<rect x="1049" y="440.3" width="1" height="29.9" fill="#eea0a6"/>
<rect x="1048.2" y="450.2" width="2.8" height="13.2" fill="#42131b"/>
<rect x="1053" y="447.8" width="1" height="40.4" fill="#eea0a6"/>
<rect x="1052.2" y="462.2" width="2.8" height="21.6" fill="#42131b"/>
<rect x="1057" y="462.8" width="1" height="24.0" fill="#93c997"/>
<rect x="1056.2" y="467.3" width="2.8" height="16.5" fill="#12301a"/>
<rect x="1061" y="431.3" width="1" height="37.4" fill="#93c997"/>
<rect x="1060.2" y="434.3" width="2.8" height="32.9" fill="#12301a"/>
<rect x="1065" y="390.3" width="1" height="41.0" fill="#93c997"/>
<rect x="1064.2" y="399.9" width="2.8" height="29.9" fill="#12301a"/>
<rect x="1069" y="393.3" width="1" height="29.9" fill="#eea0a6"/>
<rect x="1068.2" y="397.8" width="2.8" height="24.6" fill="#42131b"/>
<rect x="1073" y="417.9" width="1" height="35.3" fill="#eea0a6"/>
<rect x="1072.2" y="423.3" width="2.8" height="24.6" fill="#42131b"/>
<rect x="1077" y="407.4" width="1" height="41.9" fill="#93c997"/>
<rect x="1076.2" y="422.4" width="2.8" height="24.9" fill="#12301a"/>
<rect x="1081" y="411.9" width="1" height="51.5" fill="#eea0a6"/>
<rect x="1080.2" y="423.3" width="2.8" height="37.1" fill="#42131b"/>
<rect x="1085" y="447.8" width="1" height="24.0" fill="#93c997"/>
<rect x="1084.2" y="452.3" width="2.8" height="9.0" fill="#12301a"/>
<rect x="1089" y="449.3" width="1" height="69.8" fill="#eea0a6"/>
<rect x="1088.2" y="452.3" width="2.8" height="65.9" fill="#42131b"/>
<rect x="1093" y="498.7" width="1" height="39.5" fill="#eea0a6"/>
<rect x="1092.2" y="516.7" width="2.8" height="18.0" fill="#42131b"/>
<rect x="1097" y="506.2" width="1" height="32.0" fill="#eea0a6"/>
<rect x="1096.2" y="532.4" width="2.8" height="1.4" fill="#42131b"/>
<rect x="1102" y="518.2" width="1" height="49.4" fill="#eea0a6"/>
<rect x="1101.2" y="531.6" width="2.8" height="21.6" fill="#42131b"/>
<rect x="1106" y="540.0" width="1" height="24.6" fill="#93c997"/>
<rect x="1105.2" y="543.0" width="2.8" height="10.2" fill="#12301a"/>
<rect x="1110" y="538.2" width="1" height="62.3" fill="#eea0a6"/>
<rect x="1109.2" y="543.6" width="2.8" height="41.9" fill="#42131b"/>
<rect x="1114" y="558.6" width="1" height="35.9" fill="#93c997"/>
<rect x="1113.2" y="568.2" width="2.8" height="16.8" fill="#12301a"/>
<rect x="1118" y="529.6" width="1" height="39.5" fill="#93c997"/>
<rect x="1117.2" y="540.6" width="2.8" height="27.5" fill="#12301a"/>
<rect x="1122" y="521.2" width="1" height="28.4" fill="#eea0a6"/>
<rect x="1121.2" y="534.0" width="2.8" height="8.1" fill="#42131b"/>
<rect x="1126" y="519.1" width="1" height="30.5" fill="#93c997"/>
<rect x="1125.2" y="524.2" width="2.8" height="18.9" fill="#12301a"/>
<rect x="1130" y="501.7" width="1" height="24.0" fill="#93c997"/>
<rect x="1129.2" y="515.2" width="2.8" height="9.0" fill="#12301a"/>
<rect x="1134" y="507.7" width="1" height="29.3" fill="#eea0a6"/>
<rect x="1133.2" y="515.2" width="2.8" height="12.9" fill="#42131b"/>
<rect x="1138" y="486.7" width="1" height="43.4" fill="#93c997"/>
<rect x="1137.2" y="496.3" width="2.8" height="31.7" fill="#12301a"/>
<rect x="1142" y="488.2" width="1" height="21.0" fill="#eea0a6"/>
<rect x="1141.2" y="494.4" width="2.8" height="1.4" fill="#42131b"/>
<rect x="1146" y="483.7" width="1" height="38.9" fill="#eea0a6"/>
<rect x="1145.2" y="493.3" width="2.8" height="9.9" fill="#42131b"/>
<rect x="1150" y="475.4" width="1" height="29.3" fill="#93c997"/>
<rect x="1149.2" y="490.3" width="2.8" height="11.4" fill="#12301a"/>
<rect x="1154" y="485.2" width="1" height="41.9" fill="#eea0a6"/>
<rect x="1153.2" y="489.1" width="2.8" height="29.9" fill="#42131b"/>
<rect x="1158" y="515.2" width="1" height="50.9" fill="#eea0a6"/>
<rect x="1157.2" y="516.7" width="2.8" height="42.8" fill="#42131b"/>
<rect x="1162" y="537.6" width="1" height="26.9" fill="#93c997"/>
<rect x="1161.2" y="540.0" width="2.8" height="18.6" fill="#12301a"/>
<rect x="1166" y="521.5" width="1" height="25.0" fill="#eea0a6"/>
<rect x="1165.2" y="540.5" width="2.8" height="4.7" fill="#42131b"/>
<rect x="1170" y="483.3" width="1" height="92.2" fill="#93c997"/>
<rect x="1169.2" y="505.7" width="2.8" height="38.2" fill="#12301a"/>
<rect x="1174" y="475.4" width="1" height="43.5" fill="#eea0a6"/>
<rect x="1173.2" y="501.2" width="2.8" height="2.4" fill="#42131b"/>
<rect x="1178" y="448.5" width="1" height="54.5" fill="#93c997"/>
<rect x="1177.2" y="457.0" width="2.8" height="44.8" fill="#12301a"/>
<rect x="1182" y="426.7" width="1" height="31.6" fill="#93c997"/>
<rect x="1181.2" y="446.4" width="2.8" height="5.8" fill="#12301a"/>
<rect x="1186" y="395.0" width="1" height="63.2" fill="#93c997"/>
<rect x="1185.2" y="397.1" width="2.8" height="50.1" fill="#12301a"/>
<rect x="1190" y="377.9" width="1" height="94.9" fill="#eea0a6"/>
<rect x="1189.2" y="395.0" width="2.8" height="59.3" fill="#42131b"/>
<rect x="1195" y="445.1" width="1" height="47.4" fill="#eea0a6"/>
<rect x="1194.2" y="453.8" width="2.8" height="13.2" fill="#42131b"/>
<rect x="1199" y="416.9" width="1" height="49.3" fill="#93c997"/>
<rect x="1198.2" y="429.3" width="2.8" height="36.1" fill="#12301a"/>
<rect x="1203" y="421.4" width="1" height="22.4" fill="#eea0a6"/>
<rect x="1202.2" y="426.7" width="2.8" height="6.1" fill="#42131b"/>
<rect x="1207" y="438.5" width="1" height="52.7" fill="#eea0a6"/>
<rect x="1206.2" y="440.6" width="2.8" height="49.8" fill="#42131b"/>
<rect x="1211" y="485.4" width="1" height="38.7" fill="#eea0a6"/>
<rect x="1210.2" y="493.3" width="2.8" height="13.2" fill="#42131b"/>
<rect x="1215" y="500.4" width="1" height="26.4" fill="#eea0a6"/>
<rect x="1214.2" y="505.7" width="2.8" height="6.6" fill="#42131b"/>
<rect x="1219" y="503.1" width="1" height="25.0" fill="#eea0a6"/>
<rect x="1218.2" y="510.3" width="2.8" height="1.4" fill="#42131b"/>
<rect x="1223" y="501.8" width="1" height="42.2" fill="#eea0a6"/>
<rect x="1222.2" y="510.4" width="2.8" height="24.2" fill="#42131b"/>
<rect x="1227" y="512.3" width="1" height="26.4" fill="#93c997"/>
<rect x="1226.2" y="518.1" width="2.8" height="15.8" fill="#12301a"/>
<rect x="1231" y="477.5" width="1" height="45.3" fill="#93c997"/>
<rect x="1230.2" y="492.5" width="2.8" height="23.7" fill="#12301a"/>
<rect x="1235" y="484.6" width="1" height="27.7" fill="#eea0a6"/>
<rect x="1234.2" y="491.2" width="2.8" height="6.6" fill="#42131b"/>
<rect x="1239" y="474.1" width="1" height="43.5" fill="#eea0a6"/>
<rect x="1238.2" y="497.8" width="2.8" height="11.9" fill="#42131b"/>
<rect x="1243" y="482.0" width="1" height="32.4" fill="#93c997"/>
<rect x="1242.2" y="487.8" width="2.8" height="21.3" fill="#12301a"/>
<rect x="1247" y="536.0" width="1" height="13.2" fill="#93c997"/>
<rect x="1246.2" y="537.9" width="2.8" height="10.8" fill="#12301a"/>
<rect x="1251" y="533.4" width="1" height="32.9" fill="#eea0a6"/>
<rect x="1250.2" y="538.6" width="2.8" height="11.1" fill="#42131b"/>
<rect x="1255" y="541.3" width="1" height="28.5" fill="#eea0a6"/>
<rect x="1254.2" y="549.2" width="2.8" height="9.2" fill="#42131b"/>
<rect x="1259" y="530.2" width="1" height="29.5" fill="#93c997"/>
<rect x="1258.2" y="532.6" width="2.8" height="25.8" fill="#12301a"/>
<rect x="1263" y="503.1" width="1" height="40.8" fill="#93c997"/>
<rect x="1262.2" y="507.0" width="2.8" height="25.6" fill="#12301a"/>
<rect x="1267" y="492.5" width="1" height="37.7" fill="#eea0a6"/>
<rect x="1266.2" y="507.0" width="2.8" height="21.9" fill="#42131b"/>
<rect x="1271" y="485.9" width="1" height="25.0" fill="#93c997"/>
<rect x="1270.2" y="489.1" width="2.8" height="17.9" fill="#12301a"/>
<rect x="1275" y="473.3" width="1" height="20.6" fill="#93c997"/>
<rect x="1274.2" y="484.6" width="2.8" height="6.1" fill="#12301a"/>
<rect x="1279" y="472.8" width="1" height="47.4" fill="#eea0a6"/>
<rect x="1278.2" y="482.8" width="2.8" height="5.0" fill="#42131b"/>
<rect x="1283" y="468.8" width="1" height="34.3" fill="#93c997"/>
<rect x="1282.2" y="482.0" width="2.8" height="5.8" fill="#12301a"/>
<rect x="1287" y="479.4" width="1" height="36.9" fill="#eea0a6"/>
<rect x="1286.2" y="481.2" width="2.8" height="29.2" fill="#42131b"/>
<rect x="1292" y="507.0" width="1" height="42.2" fill="#eea0a6"/>
<rect x="1291.2" y="512.3" width="2.8" height="36.1" fill="#42131b"/>
<rect x="1296" y="529.4" width="1" height="22.9" fill="#eea0a6"/>
<rect x="1295.2" y="546.0" width="2.8" height="5.8" fill="#42131b"/>
<rect x="1300" y="534.7" width="1" height="32.4" fill="#eea0a6"/>
<rect x="1299.2" y="549.0" width="2.8" height="1.4" fill="#42131b"/>
<rect x="1304" y="525.5" width="1" height="25.0" fill="#93c997"/>
<rect x="1303.2" y="540.0" width="2.8" height="9.7" fill="#12301a"/>
<rect x="1308" y="537.3" width="1" height="30.3" fill="#eea0a6"/>
<rect x="1307.2" y="540.0" width="2.8" height="27.1" fill="#42131b"/>
<rect x="1312" y="521.5" width="1" height="49.3" fill="#93c997"/>
<rect x="1311.2" y="528.9" width="2.8" height="40.1" fill="#12301a"/>
<rect x="1316" y="516.2" width="1" height="22.4" fill="#93c997"/>
<rect x="1315.2" y="526.0" width="2.8" height="3.4" fill="#12301a"/>
<rect x="1320" y="513.6" width="1" height="21.9" fill="#eea0a6"/>
<rect x="1319.2" y="525.5" width="2.8" height="5.3" fill="#42131b"/>
<rect x="1324" y="507.0" width="1" height="25.8" fill="#93c997"/>
<rect x="1323.2" y="512.3" width="2.8" height="19.0" fill="#12301a"/>
<rect x="1328" y="488.6" width="1" height="32.9" fill="#93c997"/>
<rect x="1327.2" y="496.0" width="2.8" height="17.7" fill="#12301a"/>
<rect x="1332" y="489.9" width="1" height="46.1" fill="#eea0a6"/>
<rect x="1331.2" y="491.7" width="2.8" height="40.3" fill="#42131b"/>
<rect x="1336" y="509.7" width="1" height="36.9" fill="#eea0a6"/>
<rect x="1335.2" y="531.3" width="2.8" height="2.1" fill="#42131b"/>
<rect x="1340" y="525.5" width="1" height="19.8" fill="#eea0a6"/>
<rect x="1339.2" y="533.9" width="2.8" height="3.4" fill="#42131b"/>
<rect x="1344" y="526.8" width="1" height="17.1" fill="#93c997"/>
<rect x="1343.2" y="531.3" width="2.8" height="6.1" fill="#12301a"/>
<rect x="1348" y="520.2" width="1" height="23.7" fill="#eea0a6"/>
<rect x="1347.2" y="534.7" width="2.8" height="4.5" fill="#42131b"/>
<rect x="1352" y="528.1" width="1" height="25.0" fill="#eea0a6"/>
<rect x="1351.2" y="547.1" width="2.8" height="2.1" fill="#42131b"/>
<rect x="1356" y="512.3" width="1" height="37.4" fill="#93c997"/>
<rect x="1355.2" y="518.4" width="2.8" height="28.7" fill="#12301a"/>
<rect x="1360" y="507.5" width="1" height="33.7" fill="#eea0a6"/>
<rect x="1359.2" y="517.6" width="2.8" height="22.4" fill="#42131b"/>
<rect x="1364" y="536.0" width="1" height="7.9" fill="#eea0a6"/>
<rect x="1363.2" y="538.6" width="2.8" height="4.0" fill="#42131b"/>
<path d="M58.8,368.4 L60.8,367.7 L62.8,366.8 L64.8,365.8 L66.8,364.7 L68.8,363.7 L70.8,362.6 L72.8,361.6 L74.8,360.5 L76.8,359.5 L78.8,358.5 L80.8,357.4 L82.8,356.4 L84.8,355.3 L86.8,354.3 L88.8,353.2 L90.8,352.2 L92.8,351.1 L94.8,350.1 L96.8,349.1 L98.8,348.1 L100.8,347.1 L102.8,346.1 L104.8,345.1 L106.8,344.2 L108.8,343.4 L110.8,342.7 L112.8,342.2 L114.8,341.7 L116.8,341.4 L118.8,341.0 L120.8,340.7 L122.8,340.4 L124.8,340.0 L126.8,339.7 L128.8,339.4 L130.8,339.0 L132.8,338.7 L134.8,338.4 L136.8,338.0 L138.8,337.7 L140.8,337.4 L142.8,337.0 L144.8,336.6 L146.8,336.2 L148.8,335.8 L150.8,335.3 L152.8,334.8 L154.8,334.3 L156.8,333.8 L158.8,333.3 L160.8,332.8 L162.8,332.4 L164.8,332.0 L166.8,331.6 L168.8,331.2 L170.8,330.9 L172.8,330.5 L174.8,330.2 L176.8,329.9 L178.8,329.6 L180.8,329.3 L182.8,329.0 L184.8,328.8 L186.8,328.6 L188.8,328.5 L190.8,328.3 L192.8,328.1 L194.8,328.0 L196.8,327.8 L198.8,327.7 L200.8,327.6 L202.8,327.5 L204.8,327.5 L206.8,327.5 L208.8,327.5 L210.8,327.5 L212.8,327.7 L214.8,328.0 L216.8,328.3 L218.8,328.7 L220.8,329.1 L222.8,329.5 L224.8,329.7 L226.8,329.8 L228.8,330.0 L230.8,330.2 L232.8,330.4 L234.8,330.7 L236.8,330.9 L238.8,331.2 L240.8,331.5 L242.8,331.9 L244.8,332.2 L246.8,332.5 L248.8,332.9 L250.8,333.2 L252.8,333.5 L254.8,333.8 L256.8,334.0 L258.8,334.3 L260.8,334.5 L262.8,334.7 L264.8,335.0 L266.8,335.2 L268.8,335.5 L270.8,335.7 L272.8,336.0 L274.8,336.3 L276.8,336.6 L278.8,336.9 L280.8,337.3 L282.8,337.6 L284.8,337.9 L286.8,338.3 L288.8,338.8 L290.8,339.3 L292.8,339.9 L294.8,340.6 L296.8,341.4 L298.8,342.2 L300.8,343.0 L302.8,343.7 L304.8,344.5 L306.8,345.2 L308.8,346.0 L310.8,346.7 L312.8,347.4 L314.8,348.0 L316.8,348.7 L318.8,349.4 L320.8,350.1 L322.8,350.8 L324.8,351.4 L326.8,352.1 L328.8,352.8 L330.8,353.4 L332.8,354.1 L334.8,354.8 L336.8,355.4 L338.8,356.0 L340.8,356.6 L342.8,357.1 L344.8,357.6 L346.8,358.0 L348.8,358.5 L350.8,358.9 L352.8,359.3 L354.8,359.8 L356.8,360.2 L358.8,360.7 L360.8,361.1 L362.8,361.6 L364.8,362.1 L366.8,362.6 L368.8,363.1 L370.8,363.6 L372.8,364.1 L374.8,364.6 L376.8,365.1 L378.8,365.6 L380.8,366.1 L382.8,366.6 L384.8,367.1 L386.8,367.6 L388.8,368.1 L390.8,368.6 L392.8,369.1 L394.8,369.6 L396.8,370.1 L398.8,370.6 L400.8,371.0 L402.8,371.5 L404.8,372.0 L406.8,372.6 L408.8,373.2 L410.8,373.9 L412.8,374.5 L414.8,375.2 L416.8,375.7 L418.8,376.2 L420.8,376.7 L422.8,377.1 L424.8,377.4 L426.8,377.7 L428.8,377.9 L430.8,378.1 L432.8,378.3 L434.8,378.4 L436.8,378.5 L438.8,378.5 L440.8,378.6 L442.8,378.6 L444.8,378.5 L446.8,378.5 L448.8,378.4 L450.8,378.4 L452.8,378.5 L454.8,378.7 L456.8,379.0 L458.8,379.4 L460.8,379.9 L462.8,380.3 L464.8,380.8 L466.8,381.2 L468.8,381.6 L470.8,382.1 L472.8,382.5 L474.8,382.8 L476.8,383.1 L478.8,383.4 L480.8,383.6 L482.8,383.8 L484.8,383.9 L486.8,384.0 L488.8,384.1 L490.8,384.1 L492.8,384.2 L494.8,384.2 L496.8,384.2 L498.8,384.2 L500.8,384.2 L502.8,384.2 L504.8,384.2 L506.8,384.2 L508.8,384.2 L510.8,384.2 L512.8,384.2 L514.8,384.2 L516.8,384.2 L518.8,384.2 L520.8,384.2 L522.8,384.2 L524.8,384.2 L526.8,384.2 L528.8,384.2 L530.8,384.2 L532.8,384.2 L534.8,384.2 L536.8,384.1 L538.8,384.1 L540.8,384.0 L542.8,383.9 L544.8,383.8 L546.8,383.6 L548.8,383.5 L550.8,383.4 L552.8,383.3 L554.8,383.2 L556.8,383.1 L558.8,383.0 L560.8,382.9 L562.8,382.9 L564.8,383.0 L566.8,383.1 L568.8,383.2 L570.8,383.3 L572.8,383.3 L574.8,383.3 L576.8,383.2 L578.8,383.2 L580.8,383.0 L582.8,382.9 L584.8,382.7 L586.8,382.5 L588.8,382.3 L590.8,382.1 L592.8,381.8 L594.8,381.6 L596.8,381.2 L598.8,380.9 L600.8,380.6 L602.8,380.2 L604.8,379.8 L606.8,379.4 L608.8,379.1 L610.8,378.7 L612.8,378.4 L614.8,378.1 L616.8,377.8 L618.8,377.5 L620.8,377.3 L622.8,377.1 L624.8,376.9 L626.8,376.7 L628.8,376.5 L630.8,376.3 L632.8,376.0 L634.8,375.6 L636.8,375.2 L638.8,374.7 L640.8,374.2 L642.8,373.6 L644.8,373.1 L646.8,372.5 L648.8,372.0 L650.8,371.4 L652.8,370.8 L654.8,370.1 L656.8,369.4 L658.8,368.7 L660.8,367.9 L662.8,367.2 L664.8,366.4 L666.8,365.7 L668.8,365.0 L670.8,364.3 L672.8,363.7 L674.8,363.2 L676.8,362.8 L678.8,362.3 L680.8,362.0 L682.8,361.6 L684.8,361.2 L686.8,360.8 L688.8,360.5 L690.8,360.2 L692.8,359.9 L694.8,359.6 L696.8,359.4 L698.8,359.2 L700.8,359.0 L702.8,358.8 L704.8,358.6 L706.8,358.4 L708.8,358.2 L710.8,358.1 L712.8,357.9 L714.8,357.8 L716.8,357.7 L718.8,357.6 L720.8,357.5 L722.8,357.4 L724.8,357.3 L726.8,357.2 L728.8,357.2 L730.8,357.1 L732.8,357.1 L734.8,357.2 L736.8,357.2 L738.8,357.3 L740.8,357.3 L742.8,357.4 L744.8,357.4 L746.8,357.5 L748.8,357.5 L750.8,357.6 L752.8,357.6 L754.8,357.7 L756.8,357.7 L758.8,357.8 L760.8,357.8 L762.8,357.9 L764.8,357.9 L766.8,357.9 L768.8,358.0 L770.8,358.0 L772.8,358.0 L774.8,358.0 L776.8,358.0 L778.8,358.0 L780.8,358.0 L782.8,358.0 L784.8,358.1 L786.8,358.1 L788.8,358.1 L790.8,358.2 L792.8,358.3 L794.8,358.3 L796.8,358.4 L798.8,358.4 L800.8,358.5 L802.8,358.5 L804.8,358.6 L806.8,358.6 L808.8,358.7 L810.8,358.7 L812.8,358.8 L814.8,358.9 L816.8,359.1 L818.8,359.3 L820.8,359.6 L822.8,360.0 L824.8,360.3 L826.8,360.7 L828.8,361.0 L830.8,361.4 L832.8,361.7 L834.8,362.1 L836.8,362.4 L838.8,362.7 L840.8,363.0 L842.8,363.3 L844.8,363.6 L846.8,363.8 L848.8,364.1 L850.8,364.3 L852.8,364.5 L854.8,364.6 L856.8,364.7 L858.8,364.7 L860.8,364.7 L862.8,364.5 L864.8,364.3 L866.8,364.0 L868.8,363.8 L870.8,363.5 L872.8,363.2 L874.8,363.0 L876.8,362.7 L878.8,362.4 L880.8,362.2 L882.8,361.9 L884.8,361.6 L886.8,361.4 L888.8,361.1 L890.8,360.9 L892.8,360.6 L894.8,360.4 L896.8,360.2 L898.8,359.9 L900.8,359.7 L902.8,359.5 L904.8,359.2 L906.8,359.0 L908.8,358.8 L910.8,358.5 L912.8,358.3 L914.8,358.1 L916.8,357.8 L918.8,357.6 L920.8,357.4 L922.8,357.2 L924.8,357.1 L926.8,356.9 L928.8,356.7 L930.8,356.6 L932.8,356.4 L934.8,356.3 L936.8,356.2 L938.8,356.1 L940.8,355.9 L942.8,355.8 L944.8,355.8 L946.8,355.7 L948.8,355.6 L950.8,355.6 L952.8,355.6 L954.8,355.7 L956.8,355.8 L958.8,355.8 L960.8,355.9 L962.8,356.0 L964.8,356.1 L966.8,356.2 L968.8,356.3 L970.8,356.4 L972.8,356.5 L974.8,356.7 L976.8,356.8 L978.8,357.0 L980.8,357.2 L982.8,357.4 L984.8,357.6 L986.8,357.8 L988.8,358.0 L990.8,358.2 L992.8,358.4 L994.8,358.6 L996.8,358.8 L998.8,359.0 L1000.8,359.2 L1002.8,359.4 L1004.8,359.6 L1006.8,359.9 L1008.8,360.1 L1010.8,360.3 L1012.8,360.6 L1014.8,360.9 L1016.8,361.2 L1018.8,361.6 L1020.8,361.9 L1022.8,362.3 L1024.8,362.6 L1026.8,363.0 L1028.8,363.3 L1030.8,363.7 L1032.8,364.0 L1034.8,364.4 L1036.8,364.7 L1038.8,365.1 L1040.8,365.4 L1042.8,365.7 L1044.8,366.0 L1046.8,366.4 L1048.8,366.7 L1050.8,367.0 L1052.8,367.3 L1054.8,367.7 L1056.8,368.0 L1058.8,368.3 L1060.8,368.6 L1062.8,369.0 L1064.8,369.3 L1066.8,369.6 L1068.8,370.0 L1070.8,370.3 L1072.8,370.6 L1074.8,371.0 L1076.8,371.4 L1078.8,371.9 L1080.8,372.4 L1082.8,372.9 L1084.8,373.5 L1086.8,374.0 L1088.8,374.6 L1090.8,375.2 L1092.8,375.8 L1094.8,376.4 L1096.8,377.2 L1098.8,377.9 L1100.8,378.7 L1102.8,379.6 L1104.8,380.5 L1106.8,381.3 L1108.8,382.2 L1110.8,383.1 L1112.8,383.9 L1114.8,384.7 L1116.8,385.6 L1118.8,386.4 L1120.8,387.2 L1122.8,388.0 L1124.8,388.8 L1126.8,389.6 L1128.8,390.3 L1130.8,391.1 L1132.8,391.8 L1134.8,392.5 L1136.8,393.2 L1138.8,393.9 L1140.8,394.6 L1142.8,395.2 L1144.8,395.9 L1146.8,396.6 L1148.8,397.2 L1150.8,397.9 L1152.8,398.5 L1154.8,399.2 L1156.8,399.8 L1158.8,400.4 L1160.8,401.1 L1162.8,401.7 L1164.8,402.3 L1166.8,402.8 L1168.8,403.2 L1170.8,403.6 L1172.8,403.9 L1174.8,404.2 L1176.8,404.4 L1178.8,404.7 L1180.8,405.0 L1182.8,405.2 L1184.8,405.5 L1186.8,405.7 L1188.8,405.9 L1190.8,406.1 L1192.8,406.3 L1194.8,406.4 L1196.8,406.5 L1198.8,406.6 L1200.8,406.7 L1202.8,406.9 L1204.8,407.2 L1206.8,407.5 L1208.8,407.9 L1210.8,408.5 L1212.8,409.1 L1214.8,409.7 L1216.8,410.2 L1218.8,410.7 L1220.8,411.2 L1222.8,411.6 L1224.8,412.1 L1226.8,412.5 L1228.8,412.9 L1230.8,413.3 L1232.8,413.8 L1234.8,414.3 L1236.8,414.8 L1238.8,415.3 L1240.8,415.8 L1242.8,416.3 L1244.8,416.9 L1246.8,417.4 L1248.8,418.0 L1250.8,418.5 L1252.8,419.1 L1254.8,419.6 L1256.8,420.1 L1258.8,420.6 L1260.8,421.1 L1262.8,421.6 L1264.8,422.0 L1266.8,422.5 L1268.8,422.9 L1270.8,423.3 L1272.8,423.8 L1274.8,424.2 L1276.8,424.6 L1278.8,425.0 L1280.8,425.4 L1282.8,425.8 L1284.8,426.3 L1286.8,426.9 L1288.8,427.4 L1290.8,428.0 L1292.8,428.6 L1294.8,429.2 L1296.8,429.7 L1298.8,430.3 L1300.8,430.8 L1302.8,431.3 L1304.8,431.8 L1306.8,432.2 L1308.8,432.7 L1310.8,433.2 L1312.8,433.7 L1314.8,434.2 L1316.8,434.6 L1318.8,435.1 L1320.8,435.6 L1322.8,436.1 L1324.8,436.5 L1326.8,436.9 L1328.8,437.3 L1330.8,437.7 L1332.8,438.1 L1334.8,438.5 L1336.8,438.9 L1338.8,439.3 L1340.8,439.7 L1342.8,440.1 L1344.8,440.5 L1346.8,441.0 L1348.8,441.4 L1350.8,441.8 L1352.8,442.3 L1354.8,442.8 L1356.8,443.3 L1358.8,443.8 L1360.8,444.2 L1362.8,444.5" fill="none" stroke="#7cc47f" stroke-width="1" stroke-linejoin="round"/>
<path d="M58.8,367.6 L60.8,366.3 L62.8,364.8 L64.8,362.9 L66.8,361.0 L68.8,359.1 L70.8,357.2 L72.8,355.3 L74.8,353.4 L76.8,351.5 L78.8,349.6 L80.8,347.6 L82.8,345.7 L84.8,343.7 L86.8,341.7 L88.8,339.7 L90.8,337.9 L92.8,336.1 L94.8,334.5 L96.8,332.9 L98.8,331.4 L100.8,329.9 L102.8,328.6 L104.8,327.3 L106.8,326.0 L108.8,324.9 L110.8,323.8 L112.8,322.8 L114.8,322.0 L116.8,321.3 L118.8,320.7 L120.8,320.3 L122.8,320.1 L124.8,319.8 L126.8,319.5 L128.8,319.2 L130.8,318.8 L132.8,318.4 L134.8,317.9 L136.8,317.5 L138.8,317.0 L140.8,316.5 L142.8,315.9 L144.8,315.3 L146.8,314.5 L148.8,313.8 L150.8,313.0 L152.8,312.2 L154.8,311.4 L156.8,310.6 L158.8,309.9 L160.8,309.1 L162.8,308.4 L164.8,307.7 L166.8,307.1 L168.8,306.5 L170.8,305.9 L172.8,305.4 L174.8,305.0 L176.8,304.6 L178.8,304.2 L180.8,303.9 L182.8,303.7 L184.8,303.5 L186.8,303.3 L188.8,303.2 L190.8,303.0 L192.8,303.0 L194.8,302.9 L196.8,302.9 L198.8,302.9 L200.8,303.0 L202.8,303.1 L204.8,303.2 L206.8,303.3 L208.8,303.5 L210.8,303.7 L212.8,304.1 L214.8,304.6 L216.8,305.2 L218.8,305.9 L220.8,306.7 L222.8,307.5 L224.8,308.3 L226.8,309.2 L228.8,310.0 L230.8,310.8 L232.8,311.6 L234.8,312.4 L236.8,313.1 L238.8,313.8 L240.8,314.5 L242.8,315.2 L244.8,315.8 L246.8,316.5 L248.8,317.2 L250.8,317.9 L252.8,318.6 L254.8,319.4 L256.8,320.1 L258.8,320.9 L260.8,321.8 L262.8,322.6 L264.8,323.4 L266.8,324.3 L268.8,325.1 L270.8,325.9 L272.8,326.8 L274.8,327.6 L276.8,328.4 L278.8,329.3 L280.8,330.1 L282.8,330.9 L284.8,331.8 L286.8,332.7 L288.8,333.6 L290.8,334.7 L292.8,335.9 L294.8,337.1 L296.8,338.5 L298.8,339.9 L300.8,341.3 L302.8,342.7 L304.8,344.1 L306.8,345.5 L308.8,346.9 L310.8,348.3 L312.8,349.7 L314.8,351.1 L316.8,352.5 L318.8,353.8 L320.8,355.1 L322.8,356.3 L324.8,357.4 L326.8,358.5 L328.8,359.5 L330.8,360.5 L332.8,361.5 L334.8,362.5 L336.8,363.5 L338.8,364.5 L340.8,365.4 L342.8,366.3 L344.8,367.2 L346.8,368.0 L348.8,368.8 L350.8,369.7 L352.8,370.5 L354.8,371.3 L356.8,372.2 L358.8,373.1 L360.8,374.0 L362.8,375.0 L364.8,376.0 L366.8,377.0 L368.8,378.0 L370.8,379.0 L372.8,380.0 L374.8,380.9 L376.8,381.9 L378.8,382.8 L380.8,383.7 L382.8,384.6 L384.8,385.4 L386.8,386.2 L388.8,387.1 L390.8,387.9 L392.8,388.7 L394.8,389.6 L396.8,390.4 L398.8,391.2 L400.8,392.1 L402.8,392.9 L404.8,393.6 L406.8,394.4 L408.8,395.0 L410.8,395.7 L412.8,396.3 L414.8,396.9 L416.8,397.5 L418.8,398.1 L420.8,398.7 L422.8,399.3 L424.8,399.9 L426.8,400.4 L428.8,400.9 L430.8,401.3 L432.8,401.6 L434.8,401.9 L436.8,402.1 L438.8,402.3 L440.8,402.4 L442.8,402.5 L444.8,402.6 L446.8,402.6 L448.8,402.6 L450.8,402.7 L452.8,402.7 L454.8,402.8 L456.8,403.0 L458.8,403.1 L460.8,403.3 L462.8,403.6 L464.8,403.9 L466.8,404.3 L468.8,404.8 L470.8,405.3 L472.8,405.9 L474.8,406.4 L476.8,406.8 L478.8,407.0 L480.8,407.1 L482.8,407.1 L484.8,407.0 L486.8,406.9 L488.8,406.8 L490.8,406.7 L492.8,406.6 L494.8,406.5 L496.8,406.4 L498.8,406.3 L500.8,406.1 L502.8,405.9 L504.8,405.7 L506.8,405.4 L508.8,405.1 L510.8,404.8 L512.8,404.5 L514.8,404.3 L516.8,404.1 L518.8,403.9 L520.8,403.8 L522.8,403.6 L524.8,403.4 L526.8,403.2 L528.8,403.0 L530.8,402.8 L532.8,402.6 L534.8,402.4 L536.8,402.2 L538.8,401.9 L540.8,401.6 L542.8,401.3 L544.8,401.0 L546.8,400.7 L548.8,400.4 L550.8,400.1 L552.8,399.8 L554.8,399.5 L556.8,399.2 L558.8,399.0 L560.8,398.7 L562.8,398.4 L564.8,398.2 L566.8,397.9 L568.8,397.7 L570.8,397.5 L572.8,397.2 L574.8,396.9 L576.8,396.7 L578.8,396.4 L580.8,396.1 L582.8,395.8 L584.8,395.5 L586.8,395.2 L588.8,394.8 L590.8,394.5 L592.8,394.0 L594.8,393.5 L596.8,392.9 L598.8,392.2 L600.8,391.4 L602.8,390.6 L604.8,389.8 L606.8,389.0 L608.8,388.2 L610.8,387.4 L612.8,386.7 L614.8,386.0 L616.8,385.3 L618.8,384.6 L620.8,384.0 L622.8,383.3 L624.8,382.6 L626.8,382.0 L628.8,381.3 L630.8,380.6 L632.8,380.0 L634.8,379.3 L636.8,378.5 L638.8,377.6 L640.8,376.7 L642.8,375.7 L644.8,374.6 L646.8,373.4 L648.8,372.2 L650.8,371.1 L652.8,369.9 L654.8,368.7 L656.8,367.6 L658.8,366.4 L660.8,365.2 L662.8,364.1 L664.8,362.9 L666.8,361.8 L668.8,360.7 L670.8,359.6 L672.8,358.5 L674.8,357.4 L676.8,356.3 L678.8,355.4 L680.8,354.5 L682.8,353.7 L684.8,353.0 L686.8,352.5 L688.8,352.0 L690.8,351.6 L692.8,351.2 L694.8,350.7 L696.8,350.3 L698.8,349.9 L700.8,349.4 L702.8,349.0 L704.8,348.6 L706.8,348.1 L708.8,347.7 L710.8,347.2 L712.8,346.8 L714.8,346.3 L716.8,345.8 L718.8,345.4 L720.8,345.0 L722.8,344.7 L724.8,344.5 L726.8,344.4 L728.8,344.4 L730.8,344.4 L732.8,344.5 L734.8,344.6 L736.8,344.8 L738.8,345.0 L740.8,345.2 L742.8,345.3 L744.8,345.5 L746.8,345.6 L748.8,345.7 L750.8,345.9 L752.8,346.0 L754.8,346.1 L756.8,346.2 L758.8,346.3 L760.8,346.4 L762.8,346.5 L764.8,346.7 L766.8,346.8 L768.8,346.9 L770.8,347.2 L772.8,347.4 L774.8,347.8 L776.8,348.2 L778.8,348.6 L780.8,349.1 L782.8,349.6 L784.8,350.1 L786.8,350.6 L788.8,351.0 L790.8,351.4 L792.8,351.8 L794.8,352.1 L796.8,352.4 L798.8,352.6 L800.8,352.7 L802.8,352.8 L804.8,353.0 L806.8,353.1 L808.8,353.2 L810.8,353.4 L812.8,353.6 L814.8,354.0 L816.8,354.4 L818.8,355.0 L820.8,355.7 L822.8,356.5 L824.8,357.3 L826.8,358.0 L828.8,358.7 L830.8,359.4 L832.8,360.0 L834.8,360.5 L836.8,361.0 L838.8,361.4 L840.8,361.8 L842.8,362.1 L844.8,362.4 L846.8,362.6 L848.8,362.9 L850.8,363.1 L852.8,363.2 L854.8,363.3 L856.8,363.4 L858.8,363.4 L860.8,363.3 L862.8,363.2 L864.8,363.0 L866.8,362.8 L868.8,362.5 L870.8,362.2 L872.8,361.9 L874.8,361.6 L876.8,361.2 L878.8,360.8 L880.8,360.4 L882.8,360.0 L884.8,359.6 L886.8,359.1 L888.8,358.6 L890.8,358.0 L892.8,357.4 L894.8,356.8 L896.8,356.3 L898.8,355.7 L900.8,355.2 L902.8,354.7 L904.8,354.2 L906.8,353.7 L908.8,353.2 L910.8,352.8 L912.8,352.4 L914.8,352.0 L916.8,351.7 L918.8,351.4 L920.8,351.1 L922.8,350.7 L924.8,350.4 L926.8,350.1 L928.8,349.9 L930.8,349.6 L932.8,349.3 L934.8,349.1 L936.8,348.9 L938.8,348.7 L940.8,348.5 L942.8,348.4 L944.8,348.3 L946.8,348.2 L948.8,348.1 L950.8,348.1 L952.8,348.1 L954.8,348.2 L956.8,348.3 L958.8,348.4 L960.8,348.5 L962.8,348.7 L964.8,349.0 L966.8,349.2 L968.8,349.5 L970.8,349.9 L972.8,350.3 L974.8,350.8 L976.8,351.3 L978.8,351.9 L980.8,352.6 L982.8,353.2 L984.8,353.9 L986.8,354.6 L988.8,355.3 L990.8,355.9 L992.8,356.6 L994.8,357.3 L996.8,357.9 L998.8,358.6 L1000.8,359.3 L1002.8,359.9 L1004.8,360.6 L1006.8,361.3 L1008.8,361.9 L1010.8,362.6 L1012.8,363.3 L1014.8,363.9 L1016.8,364.6 L1018.8,365.3 L1020.8,365.9 L1022.8,366.5 L1024.8,367.1 L1026.8,367.7 L1028.8,368.2 L1030.8,368.7 L1032.8,369.2 L1034.8,369.7 L1036.8,370.2 L1038.8,370.7 L1040.8,371.3 L1042.8,371.9 L1044.8,372.5 L1046.8,373.1 L1048.8,373.8 L1050.8,374.4 L1052.8,375.1 L1054.8,375.8 L1056.8,376.4 L1058.8,377.0 L1060.8,377.6 L1062.8,378.2 L1064.8,378.7 L1066.8,379.2 L1068.8,379.7 L1070.8,380.2 L1072.8,380.7 L1074.8,381.3 L1076.8,382.0 L1078.8,382.9 L1080.8,383.8 L1082.8,384.9 L1084.8,386.0 L1086.8,387.2 L1088.8,388.4 L1090.8,389.5 L1092.8,390.8 L1094.8,392.0 L1096.8,393.4 L1098.8,394.8 L1100.8,396.2 L1102.8,397.7 L1104.8,399.2 L1106.8,400.7 L1108.8,402.2 L1110.8,403.6 L1112.8,405.0 L1114.8,406.4 L1116.8,407.6 L1118.8,408.9 L1120.8,410.0 L1122.8,411.2 L1124.8,412.4 L1126.8,413.5 L1128.8,414.7 L1130.8,415.8 L1132.8,416.9 L1134.8,417.9 L1136.8,418.9 L1138.8,419.9 L1140.8,420.9 L1142.8,421.9 L1144.8,422.9 L1146.8,423.9 L1148.8,424.9 L1150.8,425.8 L1152.8,426.8 L1154.8,427.7 L1156.8,428.6 L1158.8,429.6 L1160.8,430.3 L1162.8,431.1 L1164.8,431.7 L1166.8,432.4 L1168.8,433.0 L1170.8,433.5 L1172.8,434.1 L1174.8,434.7 L1176.8,435.3 L1178.8,435.9 L1180.8,436.4 L1182.8,436.9 L1184.8,437.2 L1186.8,437.5 L1188.8,437.6 L1190.8,437.6 L1192.8,437.6 L1194.8,437.5 L1196.8,437.4 L1198.8,437.4 L1200.8,437.5 L1202.8,437.6 L1204.8,437.8 L1206.8,438.1 L1208.8,438.5 L1210.8,439.0 L1212.8,439.6 L1214.8,440.3 L1216.8,441.0 L1218.8,441.7 L1220.8,442.4 L1222.8,443.1 L1224.8,443.9 L1226.8,444.6 L1228.8,445.3 L1230.8,446.0 L1232.8,446.6 L1234.8,447.3 L1236.8,447.9 L1238.8,448.5 L1240.8,449.1 L1242.8,449.8 L1244.8,450.4 L1246.8,451.1 L1248.8,451.9 L1250.8,452.7 L1252.8,453.5 L1254.8,454.2 L1256.8,454.9 L1258.8,455.6 L1260.8,456.2 L1262.8,456.8 L1264.8,457.3 L1266.8,457.9 L1268.8,458.3 L1270.8,458.8 L1272.8,459.2 L1274.8,459.5 L1276.8,459.8 L1278.8,460.1 L1280.8,460.4 L1282.8,460.9 L1284.8,461.4 L1286.8,462.0 L1288.8,462.6 L1290.8,463.4 L1292.8,464.2 L1294.8,465.0 L1296.8,465.8 L1298.8,466.6 L1300.8,467.4 L1302.8,468.2 L1304.8,469.0 L1306.8,469.8 L1308.8,470.5 L1310.8,471.1 L1312.8,471.7 L1314.8,472.2 L1316.8,472.6 L1318.8,473.0 L1320.8,473.4 L1322.8,473.9 L1324.8,474.3 L1326.8,474.8 L1328.8,475.3 L1330.8,475.8 L1332.8,476.3 L1334.8,476.9 L1336.8,477.4 L1338.8,478.0 L1340.8,478.5 L1342.8,479.1 L1344.8,479.6 L1346.8,480.2 L1348.8,480.7 L1350.8,481.2 L1352.8,481.8 L1354.8,482.3 L1356.8,482.8 L1358.8,483.3 L1360.8,483.7 L1362.8,484.0" fill="none" stroke="#ee6b6e" stroke-width="1" stroke-linejoin="round"/>
<path d="M57.0,275.1 L59.0,272.1 L61.0,268.4 L63.0,263.9 L65.0,259.6 L67.0,255.4 L69.0,251.4 L71.0,247.6 L73.0,243.9 L75.0,240.4 L77.0,237.2 L79.0,234.2 L81.0,231.4 L83.0,228.9 L85.0,226.7 L87.0,224.7 L89.0,222.6 L91.0,220.4 L93.0,218.2 L95.0,215.8 L97.0,213.4 L99.0,210.9 L101.0,208.7 L103.0,206.8 L105.0,205.2 L107.0,204.1 L109.0,203.6 L111.0,203.6 L113.0,204.4 L115.0,205.9 L117.0,208.0 L119.0,210.6 L121.0,213.5 L123.0,216.7 L125.0,219.9 L127.0,222.9 L129.0,225.9 L131.0,228.8 L133.0,231.6 L135.0,234.4 L137.0,237.2 L139.0,239.7 L141.0,241.8 L143.0,243.4 L145.0,244.7 L147.0,245.4 L149.0,245.5 L151.0,245.3 L153.0,244.7 L155.0,244.0 L157.0,243.0 L159.0,241.8 L161.0,240.5 L163.0,239.3 L165.0,238.2 L167.0,237.5 L169.0,237.2 L171.0,237.3 L173.0,237.9 L175.0,239.0 L177.0,240.3 L179.0,241.7 L181.0,243.2 L183.0,244.7 L185.0,246.3 L187.0,247.9 L189.0,249.7 L191.0,251.5 L193.0,253.5 L195.0,255.5 L197.0,257.5 L199.0,259.6 L201.0,261.7 L203.0,263.9 L205.0,266.1 L207.0,268.4 L209.0,271.1 L211.0,274.1 L213.0,277.5 L215.0,281.2 L217.0,285.2 L219.0,289.6 L221.0,293.9 L223.0,298.1 L225.0,302.3 L227.0,306.3 L229.0,310.2 L231.0,313.7 L233.0,317.1 L235.0,320.3 L237.0,323.3 L239.0,326.3 L241.0,329.4 L243.0,332.7 L245.0,336.0 L247.0,339.6 L249.0,343.2 L251.0,346.4 L253.0,349.4 L255.0,352.0 L257.0,354.3 L259.0,356.3 L261.0,358.1 L263.0,359.9 L265.0,361.7 L267.0,363.6 L269.0,365.5 L271.0,367.5 L273.0,369.5 L275.0,371.4 L277.0,373.1 L279.0,374.8 L281.0,376.3 L283.0,377.7 L285.0,379.1 L287.0,380.8 L289.0,382.8 L291.0,385.2 L293.0,387.9 L295.0,391.0 L297.0,394.5 L299.0,398.2 L301.0,402.1 L303.0,406.1 L305.0,410.3 L307.0,414.4 L309.0,418.3 L311.0,422.0 L313.0,425.6 L315.0,428.9 L317.0,432.2 L319.0,435.2 L321.0,438.0 L323.0,440.7 L325.0,443.1 L327.0,445.2 L329.0,447.0 L331.0,448.6 L333.0,450.0 L335.0,451.1 L337.0,451.9 L339.0,452.4 L341.0,452.6 L343.0,452.7 L345.0,452.6 L347.0,452.3 L349.0,452.0 L351.0,451.6 L353.0,451.2 L355.0,450.7 L357.0,450.3 L359.0,450.0 L361.0,449.7 L363.0,449.6 L365.0,449.8 L367.0,450.3 L369.0,451.2 L371.0,452.4 L373.0,454.0 L375.0,455.6 L377.0,457.0 L379.0,458.1 L381.0,459.0 L383.0,459.5 L385.0,459.8 L387.0,460.1 L389.0,460.5 L391.0,460.9 L393.0,461.5 L395.0,462.2 L397.0,462.9 L399.0,463.5 L401.0,464.0 L403.0,464.4 L405.0,464.7 L407.0,464.9 L409.0,465.1 L411.0,465.3 L413.0,465.5 L415.0,465.6 L417.0,465.6 L419.0,465.5 L421.0,465.2 L423.0,464.6 L425.0,463.9 L427.0,463.0 L429.0,461.9 L431.0,460.5 L433.0,459.0 L435.0,457.3 L437.0,455.4 L439.0,453.3 L441.0,451.0 L443.0,448.6 L445.0,446.0 L447.0,443.4 L449.0,440.8 L451.0,438.4 L453.0,436.3 L455.0,434.7 L457.0,433.6 L459.0,433.0 L461.0,433.0 L463.0,433.7 L465.0,434.6 L467.0,435.7 L469.0,436.9 L471.0,438.1 L473.0,439.0 L475.0,439.5 L477.0,439.5 L479.0,439.2 L481.0,438.5 L483.0,437.4 L485.0,435.9 L487.0,434.3 L489.0,432.7 L491.0,431.0 L493.0,429.3 L495.0,427.7 L497.0,426.1 L499.0,424.5 L501.0,422.9 L503.0,421.3 L505.0,419.5 L507.0,417.7 L509.0,415.8 L511.0,414.0 L513.0,412.2 L515.0,410.6 L517.0,409.1 L519.0,407.8 L521.0,406.7 L523.0,405.8 L525.0,404.9 L527.0,404.2 L529.0,403.6 L531.0,402.9 L533.0,402.0 L535.0,401.1 L537.0,400.0 L539.0,398.9 L541.0,397.6 L543.0,396.4 L545.0,395.1 L547.0,393.9 L549.0,392.6 L551.0,391.5 L553.0,390.3 L555.0,389.3 L557.0,388.2 L559.0,387.4 L561.0,386.6 L563.0,386.0 L565.0,385.6 L567.0,385.2 L569.0,385.0 L571.0,384.7 L573.0,384.5 L575.0,384.2 L577.0,383.8 L579.0,383.2 L581.0,382.3 L583.0,381.1 L585.0,379.7 L587.0,378.2 L589.0,376.6 L591.0,375.1 L593.0,373.5 L595.0,371.7 L597.0,369.7 L599.0,367.5 L601.0,365.1 L603.0,362.6 L605.0,360.3 L607.0,358.2 L609.0,356.3 L611.0,354.7 L613.0,353.3 L615.0,352.0 L617.0,350.8 L619.0,349.7 L621.0,348.6 L623.0,347.5 L625.0,346.4 L627.0,345.3 L629.0,344.1 L631.0,342.6 L633.0,340.9 L635.0,338.9 L637.0,336.7 L639.0,334.3 L641.0,331.4 L643.0,328.3 L645.0,325.0 L647.0,321.6 L649.0,318.1 L651.0,314.5 L653.0,311.1 L655.0,307.9 L657.0,304.9 L659.0,302.1 L661.0,299.6 L663.0,297.3 L665.0,295.1 L667.0,293.1 L669.0,291.3 L671.0,289.7 L673.0,288.3 L675.0,286.9 L677.0,285.7 L679.0,284.7 L681.0,284.0 L683.0,283.6 L685.0,283.5 L687.0,283.8 L689.0,284.5 L691.0,285.4 L693.0,286.6 L695.0,287.7 L697.0,288.7 L699.0,289.6 L701.0,290.3 L703.0,290.7 L705.0,290.9 L707.0,291.0 L709.0,291.0 L711.0,291.0 L713.0,291.0 L715.0,291.0 L717.0,291.2 L719.0,291.6 L721.0,292.3 L723.0,293.4 L725.0,295.0 L727.0,297.1 L729.0,299.6 L731.0,302.4 L733.0,305.4 L735.0,308.5 L737.0,311.4 L739.0,314.3 L741.0,317.2 L743.0,319.8 L745.0,322.3 L747.0,324.6 L749.0,326.7 L751.0,328.6 L753.0,330.4 L755.0,332.1 L757.0,333.8 L759.0,335.5 L761.0,337.2 L763.0,338.8 L765.0,340.4 L767.0,341.9 L769.0,343.2 L771.0,344.3 L773.0,345.3 L775.0,346.1 L777.0,346.8 L779.0,347.4 L781.0,348.0 L783.0,349.0 L785.0,350.2 L787.0,351.6 L789.0,353.3 L791.0,355.0 L793.0,356.6 L795.0,358.0 L797.0,359.1 L799.0,359.8 L801.0,360.1 L803.0,360.2 L805.0,360.2 L807.0,360.2 L809.0,360.4 L811.0,360.9 L813.0,361.8 L815.0,363.3 L817.0,365.1 L819.0,367.2 L821.0,369.6 L823.0,372.4 L825.0,375.3 L827.0,378.3 L829.0,381.3 L831.0,384.1 L833.0,386.7 L835.0,388.9 L837.0,390.5 L839.0,391.5 L841.0,392.0 L843.0,392.1 L845.0,391.7 L847.0,391.0 L849.0,390.3 L851.0,389.5 L853.0,388.7 L855.0,387.9 L857.0,387.1 L859.0,386.2 L861.0,385.0 L863.0,383.6 L865.0,382.0 L867.0,380.0 L869.0,377.9 L871.0,375.7 L873.0,373.5 L875.0,371.4 L877.0,369.3 L879.0,367.3 L881.0,365.5 L883.0,363.7 L885.0,362.0 L887.0,360.4 L889.0,358.8 L891.0,357.3 L893.0,355.7 L895.0,353.9 L897.0,352.1 L899.0,350.0 L901.0,347.9 L903.0,345.6 L905.0,343.3 L907.0,341.0 L909.0,338.8 L911.0,336.8 L913.0,334.9 L915.0,333.2 L917.0,331.8 L919.0,330.8 L921.0,329.9 L923.0,329.2 L925.0,328.7 L927.0,328.4 L929.0,328.0 L931.0,327.6 L933.0,327.3 L935.0,327.1 L937.0,327.0 L939.0,327.0 L941.0,327.1 L943.0,327.4 L945.0,327.6 L947.0,327.9 L949.0,328.1 L951.0,328.4 L953.0,328.7 L955.0,329.2 L957.0,329.9 L959.0,330.8 L961.0,331.9 L963.0,333.4 L965.0,335.0 L967.0,336.7 L969.0,339.4 L971.0,342.9 L973.0,346.4 L975.0,349.9 L977.0,353.4 L979.0,356.8 L981.0,359.4 L983.0,361.1 L985.0,362.9 L987.0,364.8 L989.0,366.6 L991.0,368.5 L993.0,370.5 L995.0,372.5 L997.0,374.7 L999.0,377.2 L1001.0,379.9 L1003.0,382.8 L1005.0,385.7 L1007.0,388.6 L1009.0,391.2 L1011.0,393.4 L1013.0,395.4 L1015.0,397.0 L1017.0,398.1 L1019.0,398.9 L1021.0,399.4 L1023.0,399.6 L1025.0,399.4 L1027.0,399.1 L1029.0,399.0 L1031.0,399.0 L1033.0,399.0 L1035.0,399.5 L1037.0,400.3 L1039.0,401.5 L1041.0,403.0 L1043.0,404.9 L1045.0,407.0 L1047.0,409.2 L1049.0,411.4 L1051.0,413.5 L1053.0,415.4 L1055.0,417.1 L1057.0,418.5 L1059.0,419.7 L1061.0,420.7 L1063.0,421.3 L1065.0,421.7 L1067.0,422.1 L1069.0,422.3 L1071.0,422.4 L1073.0,422.6 L1075.0,422.8 L1077.0,423.1 L1079.0,423.9 L1081.0,425.0 L1083.0,426.6 L1085.0,428.5 L1087.0,431.1 L1089.0,434.3 L1091.0,437.8 L1093.0,441.6 L1095.0,445.7 L1097.0,450.0 L1099.0,454.3 L1101.0,458.7 L1103.0,463.0 L1105.0,467.2 L1107.0,471.3 L1109.0,475.3 L1111.0,479.2 L1113.0,482.7 L1115.0,486.0 L1117.0,489.0 L1119.0,491.7 L1121.0,494.2 L1123.0,496.2 L1125.0,497.8 L1127.0,499.3 L1129.0,500.6 L1131.0,501.5 L1133.0,502.1 L1135.0,502.5 L1137.0,502.7 L1139.0,502.7 L1141.0,502.6 L1143.0,502.4 L1145.0,502.2 L1147.0,502.1 L1149.0,502.1 L1151.0,502.5 L1153.0,503.1 L1155.0,504.1 L1157.0,505.3 L1159.0,507.0 L1161.0,508.8 L1163.0,510.3 L1165.0,511.4 L1167.0,512.3 L1169.0,512.7 L1171.0,512.2 L1173.0,510.9 L1175.0,509.0 L1177.0,506.7 L1179.0,504.0 L1181.0,501.0 L1183.0,498.2 L1185.0,495.5 L1187.0,493.1 L1189.0,490.7 L1191.0,488.4 L1193.0,486.1 L1195.0,483.9 L1197.0,481.9 L1199.0,480.2 L1201.0,478.9 L1203.0,478.0 L1205.0,477.8 L1207.0,478.0 L1209.0,478.8 L1211.0,479.8 L1213.0,481.1 L1215.0,482.6 L1217.0,484.2 L1219.0,485.8 L1221.0,487.3 L1223.0,488.7 L1225.0,489.9 L1227.0,491.1 L1229.0,491.9 L1231.0,492.5 L1233.0,493.0 L1235.0,493.4 L1237.0,493.6 L1239.0,493.9 L1241.0,494.4 L1243.0,495.2 L1245.0,496.3 L1247.0,497.8 L1249.0,499.7 L1251.0,501.7 L1253.0,503.6 L1255.0,505.3 L1257.0,506.8 L1259.0,507.9 L1261.0,508.6 L1263.0,508.9 L1265.0,509.0 L1267.0,508.9 L1269.0,508.6 L1271.0,508.0 L1273.0,507.3 L1275.0,506.5 L1277.0,505.7 L1279.0,504.9 L1281.0,504.3 L1283.0,504.1 L1285.0,504.3 L1287.0,504.9 L1289.0,505.9 L1291.0,507.2 L1293.0,508.8 L1295.0,510.5 L1297.0,512.1 L1299.0,513.8 L1301.0,515.4 L1303.0,517.1 L1305.0,518.6 L1307.0,519.8 L1309.0,520.8 L1311.0,521.5 L1313.0,522.1 L1315.0,522.3 L1317.0,522.3 L1319.0,522.3 L1321.0,522.1 L1323.0,521.7 L1325.0,521.3 L1327.0,521.0 L1329.0,520.9 L1331.0,520.9 L1333.0,521.0 L1335.0,521.3 L1337.0,521.8 L1339.0,522.4 L1341.0,523.0 L1343.0,523.7 L1345.0,524.5 L1347.0,525.2 L1349.0,525.9 L1351.0,526.4 L1353.0,526.9 L1355.0,527.2 L1357.0,527.5 L1359.0,527.8 L1361.0,528.0 L1363.0,528.2" fill="none" stroke="#4aa8f5" stroke-width="1" stroke-linejoin="round"/>
<line x1="57" y1="358.4" x2="1802" y2="358.4" stroke="#9093a0" stroke-width="1.5"/>
<line x1="57" y1="376.8" x2="1802" y2="376.8" stroke="#9093a0" stroke-width="1.5"/>
<line x1="57" y1="473.3" x2="1802" y2="473.3" stroke="#9093a0" stroke-width="1.5"/>
<line x1="57" y1="574.7" x2="1802" y2="574.7" stroke="#9093a0" stroke-width="1.5"/>
<line x1="57" y1="596" x2="1802" y2="596" stroke="#9093a0" stroke-width="1.5"/>
<line x1="103" y1="108" x2="1634.7" y2="426.7" stroke="#4a4b54" stroke-width="1.7" stroke-linecap="round"/>
<path d="M1375.9,413.6 L1334.9,379.1 M1347.8,378 L1334.9,379.1 L1335.6,391.6" fill="none" stroke="#3464e8" stroke-width="1.9" stroke-linecap="round" stroke-linejoin="round"/>
<path d="M1469.2,451.5 L1391.6,462.7 M1399.1,453.4 L1391.6,462.7 L1401.7,470.7" fill="none" stroke="#3464e8" stroke-width="1.9" stroke-linecap="round" stroke-linejoin="round"/>
<path d="M1444.8,611.5 L1379.7,586 M1390.7,581.4 L1379.7,586 L1384.5,597.5" fill="none" stroke="#3464e8" stroke-width="1.9" stroke-linecap="round" stroke-linejoin="round"/>
<text x="1430.8" y="329.1" font-size="15.8" fill="#0b0d14" font-weight="normal" text-anchor="start" textLength="143.3" lengthAdjust="spacingAndGlyphs" stroke="#0b0d14" stroke-width="0.3">RESISTENZE CHIAVE</text>
<text x="1430.8" y="345.9" font-size="15.8" fill="#0b0d14" font-weight="normal" text-anchor="start" textLength="97.6" lengthAdjust="spacingAndGlyphs" stroke="#0b0d14" stroke-width="0.3">78.00 - 79.10</text>
<text x="1495.7" y="444.4" font-size="15.8" fill="#0b0d14" font-weight="normal" text-anchor="start" textLength="144.2" lengthAdjust="spacingAndGlyphs" stroke="#0b0d14" stroke-width="0.3">RESISTENZA CHIAVE</text>
<text x="1495.7" y="461.6" font-size="15.8" fill="#0b0d14" font-weight="normal" text-anchor="start" textLength="40.5" lengthAdjust="spacingAndGlyphs" stroke="#0b0d14" stroke-width="0.3">72.30</text>
<text x="1523.7" y="519.9" font-size="15.8" fill="#0b0d14" font-weight="normal" text-anchor="start" textLength="168.5" lengthAdjust="spacingAndGlyphs" stroke="#0b0d14" stroke-width="0.3">AREA DI CONGESTIONE</text>
<text x="1475.7" y="620.5" font-size="15.8" fill="#0b0d14" font-weight="normal" text-anchor="start" textLength="129" lengthAdjust="spacingAndGlyphs" stroke="#0b0d14" stroke-width="0.3">SUPPORTI CHIAVE</text>
<text x="1475.7" y="637.2" font-size="15.8" fill="#0b0d14" font-weight="normal" text-anchor="start" textLength="40.1" lengthAdjust="spacingAndGlyphs" stroke="#0b0d14" stroke-width="0.3">65.00</text>
<text x="1527.2" y="637.2" font-size="15.8" fill="#0b0d14" font-weight="normal" text-anchor="start" stroke="#0b0d14" stroke-width="0.3">-</text>
<text x="1548.1" y="637.2" font-size="15.8" fill="#0b0d14" font-weight="normal" text-anchor="start" textLength="40.3" lengthAdjust="spacingAndGlyphs" stroke="#0b0d14" stroke-width="0.3">66.20</text>
<rect x="57" y="650.2" width="1795.5" height="1" fill="#2a2e39"/>
<text x="1810" y="76.9" font-size="11.6" fill="#b4b7c0" font-weight="normal" text-anchor="start" textLength="28.2" lengthAdjust="spacingAndGlyphs">96.00</text>
<text x="1810" y="144.38000000000002" font-size="11.6" fill="#b4b7c0" font-weight="normal" text-anchor="start" textLength="28.2" lengthAdjust="spacingAndGlyphs">92.00</text>
<text x="1810" y="178.12" font-size="11.6" fill="#b4b7c0" font-weight="normal" text-anchor="start" textLength="28.2" lengthAdjust="spacingAndGlyphs">90.00</text>
<text x="1810" y="211.86" font-size="11.6" fill="#b4b7c0" font-weight="normal" text-anchor="start" textLength="28.2" lengthAdjust="spacingAndGlyphs">88.00</text>
<text x="1810" y="245.60000000000002" font-size="11.6" fill="#b4b7c0" font-weight="normal" text-anchor="start" textLength="28.2" lengthAdjust="spacingAndGlyphs">86.00</text>
<text x="1810" y="279.34" font-size="11.6" fill="#b4b7c0" font-weight="normal" text-anchor="start" textLength="28.2" lengthAdjust="spacingAndGlyphs">84.00</text>
<text x="1810" y="313.08" font-size="11.6" fill="#b4b7c0" font-weight="normal" text-anchor="start" textLength="28.2" lengthAdjust="spacingAndGlyphs">82.00</text>
<text x="1810" y="346.82" font-size="11.6" fill="#b4b7c0" font-weight="normal" text-anchor="start" textLength="28.2" lengthAdjust="spacingAndGlyphs">80.00</text>
<text x="1810" y="414.3" font-size="11.6" fill="#b4b7c0" font-weight="normal" text-anchor="start" textLength="28.2" lengthAdjust="spacingAndGlyphs">76.00</text>
<text x="1810" y="515.52" font-size="11.6" fill="#b4b7c0" font-weight="normal" text-anchor="start" textLength="28.2" lengthAdjust="spacingAndGlyphs">70.00</text>
<clipPath id="c62"><rect x="1800" y="630" width="60" height="20.2"/></clipPath>
<text x="1810" y="650.48" font-size="11.6" fill="#b4b7c0" font-weight="normal" text-anchor="start" textLength="28.2" lengthAdjust="spacingAndGlyphs" clip-path="url(#c62)">62.00</text>
<text x="1809.2" y="661.3" font-size="11.6" fill="#b2b5be" font-weight="normal" text-anchor="start" textLength="33.8" lengthAdjust="spacingAndGlyphs">100.00</text>
<text x="1809.2" y="716.8" font-size="11.6" fill="#b2b5be" font-weight="normal" text-anchor="start" textLength="22.4" lengthAdjust="spacingAndGlyphs">0.00</text>
<rect x="1802" y="98.5" width="40.799999999999955" height="17.400000000000006" fill="#e3effd"/>
<text x="1810.2" y="111.8" font-size="11.6" fill="#131722" font-weight="normal" text-anchor="start" textLength="28.2" lengthAdjust="spacingAndGlyphs">93.95</text>
<rect x="1749.3" y="98.5" width="51.7" height="17.4" fill="#e3effd"/>
<text x="1752.8" y="112.1" font-size="11.6" fill="#131722" font-weight="normal" text-anchor="start" textLength="43.5" lengthAdjust="spacingAndGlyphs">Massimo</text>
<rect x="1802" y="350.3" width="40.799999999999955" height="16.899999999999977" fill="#9598a1"/>
<text x="1810.2" y="363.35" font-size="11.6" fill="#131722" font-weight="normal" text-anchor="start" textLength="28.2" lengthAdjust="spacingAndGlyphs">79.08</text>
<rect x="1802" y="369.2" width="40.799999999999955" height="16.30000000000001" fill="#9598a1"/>
<text x="1810.2" y="381.95000000000005" font-size="11.6" fill="#131722" font-weight="normal" text-anchor="start" textLength="28.2" lengthAdjust="spacingAndGlyphs">77.99</text>
<rect x="1802" y="437.1" width="40.799999999999955" height="16.799999999999955" fill="#4caf50"/>
<text x="1810.2" y="450.1" font-size="11.6" fill="#ffffff" font-weight="bold" text-anchor="start" textLength="28.2" lengthAdjust="spacingAndGlyphs">73.94</text>
<rect x="1802" y="460.2" width="40.799999999999955" height="16.400000000000034" fill="#9598a1"/>
<text x="1810.2" y="473.0" font-size="11.6" fill="#131722" font-weight="normal" text-anchor="start" textLength="28.2" lengthAdjust="spacingAndGlyphs">72.28</text>
<rect x="1802" y="476.6" width="40.799999999999955" height="16.299999999999955" fill="#f23645"/>
<text x="1810.2" y="489.35" font-size="11.6" fill="#ffffff" font-weight="bold" text-anchor="start" textLength="28.2" lengthAdjust="spacingAndGlyphs">71.60</text>
<rect x="1802" y="517" width="40.799999999999955" height="16.600000000000023" fill="#2196f3"/>
<text x="1810.2" y="529.9" font-size="11.6" fill="#ffffff" font-weight="bold" text-anchor="start" textLength="28.2" lengthAdjust="spacingAndGlyphs">68.97</text>
<rect x="1802" y="533.6" width="40.799999999999955" height="16.799999999999955" fill="#f23645"/>
<text x="1810.2" y="546.6" font-size="11.6" fill="#ffffff" font-weight="bold" text-anchor="start" textLength="28.2" lengthAdjust="spacingAndGlyphs">68.23</text>
<rect x="1756.1" y="533.6" width="44.5" height="16.8" fill="#f23645"/>
<text x="1759.6" y="546.9" font-size="11.6" fill="#ffffff" font-weight="normal" text-anchor="start" textLength="36.5" lengthAdjust="spacingAndGlyphs">LCrude</text>
<rect x="1802" y="566.7" width="40.799999999999955" height="16.899999999999977" fill="#9598a1"/>
<text x="1810.2" y="579.7500000000001" font-size="11.6" fill="#131722" font-weight="normal" text-anchor="start" textLength="28.2" lengthAdjust="spacingAndGlyphs">66.27</text>
<rect x="1802" y="587.6" width="40.799999999999955" height="16.399999999999977" fill="#9598a1"/>
<text x="1810.2" y="600.4" font-size="11.6" fill="#131722" font-weight="normal" text-anchor="start" textLength="28.2" lengthAdjust="spacingAndGlyphs">65.02</text>
<rect x="1802" y="604" width="40.799999999999955" height="17.299999999999955" fill="#e3effd"/>
<text x="1810.2" y="617.25" font-size="11.6" fill="#131722" font-weight="normal" text-anchor="start" textLength="28.2" lengthAdjust="spacingAndGlyphs">64.72</text>
<rect x="1755.3" y="604" width="45.3" height="17.3" fill="#e3effd"/>
<text x="1758.8" y="617.6" font-size="11.6" fill="#131722" font-weight="normal" text-anchor="start" textLength="37.5" lengthAdjust="spacingAndGlyphs">Minimo</text>
<rect x="1802" y="669" width="40.799999999999955" height="17.100000000000023" fill="#ff6d00"/>
<text x="1810.2" y="682.15" font-size="11.6" fill="#ffffff" font-weight="bold" text-anchor="start" textLength="28.2" lengthAdjust="spacingAndGlyphs">46.20</text>
<rect x="1802" y="686.1" width="40.799999999999955" height="16.899999999999977" fill="#2196f3"/>
<text x="1810.2" y="699.15" font-size="11.6" fill="#ffffff" font-weight="bold" text-anchor="start" textLength="28.2" lengthAdjust="spacingAndGlyphs">35.73</text>
<text x="111.8" y="736.2" font-size="11.6" fill="#b2b5be" font-weight="normal" text-anchor="middle">Ott</text>
<text x="204.8" y="736.2" font-size="11.6" fill="#b2b5be" font-weight="normal" text-anchor="middle">Nov</text>
<text x="292.8" y="736.2" font-size="11.6" fill="#b2b5be" font-weight="normal" text-anchor="middle">Dic</text>
<text x="374.8" y="736.2" font-size="11.6" fill="#b2b5be" font-weight="bold" text-anchor="middle">2024</text>
<text x="462.8" y="736.2" font-size="11.6" fill="#b2b5be" font-weight="normal" text-anchor="middle">Feb</text>
<text x="547.8" y="736.2" font-size="11.6" fill="#b2b5be" font-weight="normal" text-anchor="middle">Mar</text>
<text x="640.8" y="736.2" font-size="11.6" fill="#b2b5be" font-weight="normal" text-anchor="middle">Apr</text>
<text x="729.8" y="736.2" font-size="11.6" fill="#b2b5be" font-weight="normal" text-anchor="middle">Mag</text>
<text x="822.8" y="736.2" font-size="11.6" fill="#b2b5be" font-weight="normal" text-anchor="middle">Giu</text>
<text x="903.8" y="736.2" font-size="11.6" fill="#b2b5be" font-weight="normal" text-anchor="middle">Lug</text>
<text x="995.8" y="736.2" font-size="11.6" fill="#b2b5be" font-weight="normal" text-anchor="middle">Ago</text>
<text x="1084.8" y="736.2" font-size="11.6" fill="#b2b5be" font-weight="normal" text-anchor="middle">Set</text>
<text x="1169.8" y="736.2" font-size="11.6" fill="#b2b5be" font-weight="normal" text-anchor="middle">Ott</text>
<text x="1266.8" y="736.2" font-size="11.6" fill="#b2b5be" font-weight="normal" text-anchor="middle">Nov</text>
<text x="1351.8" y="736.2" font-size="11.6" fill="#b2b5be" font-weight="normal" text-anchor="middle">Dic</text>
<text x="1444.8" y="736.2" font-size="11.6" fill="#b2b5be" font-weight="bold" text-anchor="middle">2025</text>
<text x="1532.8" y="736.2" font-size="11.6" fill="#b2b5be" font-weight="normal" text-anchor="middle">Feb</text>
<text x="1613.8" y="736.2" font-size="11.6" fill="#b2b5be" font-weight="normal" text-anchor="middle">Mar</text>
<text x="1702.8" y="736.2" font-size="11.6" fill="#b2b5be" font-weight="normal" text-anchor="middle">Apr</text>
<text x="1791.8" y="736.2" font-size="11.6" fill="#b2b5be" font-weight="normal" text-anchor="middle">Mag</text>
<text x="63.5" y="64.8" font-size="13" fill="#131722" font-weight="normal" text-anchor="start" textLength="118.2" lengthAdjust="spacingAndGlyphs">LCrude <tspan font-weight="bold">·</tspan> LCrude <tspan font-weight="bold">·</tspan> 1D</text>
<circle cx="202" cy="60.2" r="6.5" fill="#d5f0e8"/><circle cx="202" cy="60.2" r="3.1" fill="#089981"/>
<text x="222.8" y="64.3" font-size="11.2" fill="#131722" font-weight="normal" text-anchor="start" textLength="69.6" lengthAdjust="spacingAndGlyphs">O - Aper.68.39</text>
<text x="297.5" y="64.3" font-size="11.2" fill="#131722" font-weight="normal" text-anchor="start" textLength="67.6" lengthAdjust="spacingAndGlyphs">H - Max.68.56</text>
<text x="370.6" y="64.3" font-size="11.2" fill="#131722" font-weight="normal" text-anchor="start" textLength="63.6" lengthAdjust="spacingAndGlyphs">L - Min.68.19</text>
<text x="439.8" y="64.3" font-size="11.2" fill="#131722" font-weight="normal" text-anchor="start" textLength="73.1" lengthAdjust="spacingAndGlyphs">C - Chius.68.23</text>
<text x="518.9" y="64.3" font-size="11.2" fill="#131722" font-weight="normal" text-anchor="start" textLength="25.9" lengthAdjust="spacingAndGlyphs">−0.13</text>
<text x="549.8" y="64.3" font-size="11.2" fill="#131722" font-weight="normal" text-anchor="start" textLength="39.2" lengthAdjust="spacingAndGlyphs">(−0.19%)</text>
<g transform="translate(1827.5,733.5)" fill="none" stroke="#131722" stroke-width="1.1"><path d="M-5.6,0 L-2.8,-4.8 L2.8,-4.8 L5.6,0 L2.8,4.8 L-2.8,4.8 Z"/><circle r="1.6"/></g>
<clipPath id="cpl"><rect x="56.8" y="47" width="1745" height="698"/></clipPath>
<path d="M55.3,660.9 L59.3,663.7 L63.3,658.9 L67.4,658.7 L71.4,660.1 L75.5,668.7 L79.5,679.3 L83.5,678.5 L87.6,675.6 L91.6,680.7 L95.7,676.7 L99.7,661.8 L103.7,680.8 L107.8,691.6 L111.8,712.7 L115.9,701.9 L119.9,712.6 L123.9,712.6 L128.0,709.4 L132.0,695.1 L136.1,697.5 L140.1,707.2 L144.1,706.3 L148.2,689.1 L152.2,692.3 L156.3,689.7 L160.3,682.6 L164.3,668.1 L168.4,667.3 L172.4,679.4 L176.5,696.5 L180.5,686.2 L184.5,702.2 L188.6,691.7 L192.6,696.9 L196.7,708.6 L200.7,709.7 L204.7,710.1 L208.8,699.9 L212.8,709.4 L216.9,709.3 L220.9,713.5 L224.9,710.8 L229.0,709.6 L233.0,701.1 L237.1,695.1 L241.1,696.9 L245.1,703.9 L249.2,710.6 L253.2,694.8 L257.3,687.1 L261.3,685.9 L265.3,691.3 L269.4,691.1 L273.4,695.1 L277.5,693.8 L281.5,681.9 L285.5,673.0 L289.6,689.3 L293.6,698.0 L297.7,705.7 L301.7,713.1 L305.7,713.2 L309.8,709.6 L313.8,700.8 L317.9,700.2 L321.9,711.2 L325.9,703.6 L330.0,694.6 L334.0,693.9 L338.1,690.2 L342.1,684.2 L346.1,677.3 L350.2,670.2 L354.2,671.9 L358.3,663.6 L362.3,674.2 L366.3,686.1 L370.4,690.4 L374.4,696.0 L378.5,679.2 L382.5,688.8 L386.5,676.5 L390.6,700.5 L394.6,690.7 L398.7,698.0 L402.7,685.0 L406.7,685.7 L410.8,688.0 L414.8,691.3 L418.9,682.3 L422.9,672.0 L426.9,676.0 L431.0,665.5 L435.0,668.6 L439.1,663.6 L443.1,661.3 L447.1,658.7 L451.2,673.2 L455.2,668.1 L459.3,680.4 L463.3,692.8 L467.3,702.7 L471.4,699.5 L475.4,698.9 L479.5,694.7 L483.5,678.6 L487.5,677.1 L491.6,674.8 L495.6,670.7 L499.7,679.4 L503.7,669.7 L507.7,660.6 L511.8,661.1 L515.8,669.1 L519.9,662.8 L523.9,662.6 L527.9,678.7 L532.0,672.4 L536.0,663.7 L540.1,678.5 L544.1,680.4 L548.1,670.4 L552.2,680.9 L556.2,689.6 L560.3,679.2 L564.3,675.3 L568.3,693.1 L572.4,693.5 L576.4,688.9 L580.5,688.0 L584.5,671.1 L588.5,665.0 L592.6,664.5 L596.6,662.8 L600.7,661.4 L604.7,663.5 L608.7,671.6 L612.8,677.4 L616.8,678.2 L620.9,678.2 L624.9,668.3 L628.9,675.4 L633.0,672.5 L637.0,661.4 L641.1,665.0 L645.1,660.0 L649.1,664.5 L653.2,661.9 L657.2,666.0 L661.3,671.4 L665.3,677.8 L669.3,670.7 L673.4,675.8 L677.4,676.3 L681.5,674.7 L685.5,678.1 L689.5,705.0 L693.6,707.1 L697.6,705.4 L701.7,702.5 L705.7,692.2 L709.7,697.3 L713.8,689.2 L717.8,690.1 L721.9,698.1 L725.9,709.4 L729.9,713.0 L734.0,709.4 L738.0,713.0 L742.1,708.3 L746.1,709.1 L750.1,700.3 L754.2,695.3 L758.2,705.5 L762.3,699.0 L766.3,704.2 L770.3,700.3 L774.4,695.7 L778.4,688.5 L782.5,683.6 L786.5,689.3 L790.5,704.0 L794.6,709.1 L798.6,691.9 L802.7,679.3 L806.7,659.0 L810.7,676.9 L814.8,694.6 L818.8,704.0 L822.9,713.3 L826.9,711.7 L830.9,702.2 L835.0,693.2 L839.0,694.9 L843.1,676.1 L847.1,676.6 L851.1,675.8 L855.2,678.6 L859.2,675.1 L863.3,662.2 L867.3,659.0 L871.3,662.1 L875.4,660.6 L879.4,665.9 L883.5,658.7 L887.5,667.1 L891.5,667.4 L895.6,661.1 L899.6,672.4 L903.7,660.6 L907.7,668.3 L911.7,664.5 L915.8,660.4 L919.8,672.4 L923.9,690.5 L927.9,697.2 L931.9,690.9 L936.0,688.8 L940.0,697.8 L944.1,699.5 L948.1,709.0 L952.1,686.8 L956.2,697.7 L960.2,712.8 L964.3,709.0 L968.3,706.7 L972.3,707.0 L976.4,696.9 L980.4,702.3 L984.5,710.9 L988.5,710.3 L992.5,688.2 L996.6,699.5 L1000.6,708.2 L1004.7,702.3 L1008.7,707.7 L1012.7,694.7 L1016.8,685.3 L1020.8,677.5 L1024.9,662.5 L1028.9,670.3 L1032.9,678.9 L1037.0,672.2 L1041.0,683.2 L1045.1,695.7 L1049.1,700.9 L1053.1,709.6 L1057.2,702.5 L1061.2,689.4 L1065.3,674.0 L1069.3,684.1 L1073.3,695.4 L1077.4,684.1 L1081.4,700.8 L1085.5,694.5 L1089.5,713.1 L1093.5,712.2 L1097.6,711.8 L1101.6,709.0 L1105.7,705.8 L1109.7,709.5 L1113.7,705.0 L1117.8,697.7 L1121.8,697.9 L1125.9,691.6 L1129.9,689.0 L1133.9,692.2 L1138.0,675.6 L1142.0,675.0 L1146.1,667.2 L1150.1,664.6 L1154.1,677.4 L1158.2,695.3 L1162.2,686.7 L1166.3,690.5 L1170.3,674.8 L1174.3,673.6 L1178.4,661.7 L1182.4,665.4 L1186.5,658.6 L1190.5,679.5 L1194.5,683.0 L1198.6,672.4 L1202.6,673.4 L1206.7,689.6 L1210.7,694.1 L1214.7,695.7 L1218.8,695.5 L1222.8,702.0 L1226.9,704.9 L1230.9,696.3 L1234.9,698.1 L1239.0,702.0 L1243.0,694.7 L1247.1,708.7 L1251.1,707.3 L1255.1,709.3 L1259.2,697.8 L1263.2,677.1 L1267.3,689.8 L1271.3,666.7 L1275.3,664.5 L1279.4,666.6 L1283.4,665.2 L1287.5,680.9 L1291.5,701.8 L1295.5,703.6 L1299.6,702.8 L1303.6,697.1 L1307.7,712.1 L1311.7,690.7 L1315.7,689.1 L1319.8,691.7 L1323.8,681.7 L1327.9,672.8 L1331.9,692.4 L1335.9,693.1 L1340.0,693.2 L1344.0,686.8 L1348.1,692.2 L1352.1,698.9 L1356.1,678.1 L1360.2,692.7 L1364.2,694.5" fill="none" stroke="#2196f3" stroke-width="1" stroke-linejoin="round" opacity="0.9" clip-path="url(#cpl)"/>
<path d="M55.3,661.1 L59.3,661.9 L63.3,661.2 L67.4,660.5 L71.4,659.2 L75.5,662.5 L79.5,669.4 L83.5,675.5 L87.6,677.8 L91.6,678.3 L95.7,677.7 L99.7,673.1 L103.7,673.1 L107.8,678.1 L111.8,695.0 L115.9,702.1 L119.9,709.1 L123.9,709.0 L128.0,711.5 L132.0,705.7 L136.1,700.7 L140.1,699.9 L144.1,703.7 L148.2,700.9 L152.2,695.9 L156.3,690.4 L160.3,688.2 L164.3,680.2 L168.4,672.7 L172.4,671.6 L176.5,681.1 L180.5,687.4 L184.5,695.0 L188.6,693.4 L192.6,696.9 L196.7,699.0 L200.7,705.0 L204.7,709.4 L208.8,706.6 L212.8,706.5 L216.9,706.2 L220.9,710.8 L224.9,711.2 L229.0,711.3 L233.0,707.1 L237.1,701.9 L241.1,697.7 L245.1,698.6 L249.2,703.8 L253.2,703.1 L257.3,697.5 L261.3,689.3 L265.3,688.1 L269.4,689.4 L273.4,692.5 L277.5,693.4 L281.5,690.3 L285.5,682.9 L289.6,681.4 L293.6,686.8 L297.7,697.7 L301.7,705.6 L305.7,710.7 L309.8,712.0 L313.8,707.9 L317.9,703.5 L321.9,704.0 L325.9,705.0 L330.0,703.1 L334.0,697.3 L338.1,692.9 L342.1,689.4 L346.1,683.9 L350.2,677.2 L354.2,673.1 L358.3,668.6 L362.3,669.9 L366.3,674.6 L370.4,683.6 L374.4,690.8 L378.5,688.6 L382.5,688.0 L386.5,681.5 L390.6,688.5 L394.6,689.2 L398.7,696.4 L402.7,691.2 L406.7,689.6 L410.8,686.2 L414.8,688.3 L418.9,687.2 L422.9,681.9 L426.9,676.7 L431.0,671.2 L435.0,670.0 L439.1,665.9 L443.1,664.5 L447.1,661.2 L451.2,664.4 L455.2,666.7 L459.3,673.9 L463.3,680.4 L467.3,692.0 L471.4,698.3 L475.4,700.4 L479.5,697.7 L483.5,690.7 L487.5,683.5 L491.6,676.8 L495.6,674.2 L499.7,675.0 L503.7,673.3 L507.7,669.9 L511.8,663.8 L515.8,663.6 L519.9,664.3 L523.9,664.8 L527.9,668.0 L532.0,671.2 L536.0,671.6 L540.1,671.5 L544.1,674.2 L548.1,676.4 L552.2,677.2 L556.2,680.3 L560.3,683.2 L564.3,681.4 L568.3,682.6 L572.4,687.3 L576.4,691.8 L580.5,690.1 L584.5,682.7 L588.5,674.7 L592.6,666.9 L596.6,664.1 L600.7,662.9 L604.7,662.6 L608.7,665.5 L612.8,670.8 L616.8,675.7 L620.9,677.9 L624.9,674.9 L628.9,674.0 L633.0,672.1 L637.0,669.8 L641.1,666.3 L645.1,662.1 L649.1,663.2 L653.2,662.1 L657.2,664.1 L661.3,666.5 L665.3,671.8 L669.3,673.3 L673.4,674.7 L677.4,674.3 L681.5,675.6 L685.5,676.4 L689.5,685.9 L693.6,696.7 L697.6,705.8 L701.7,705.0 L705.7,700.0 L709.7,697.3 L713.8,692.9 L717.8,692.2 L721.9,692.5 L725.9,699.2 L729.9,706.8 L734.0,710.6 L738.0,711.8 L742.1,710.3 L746.1,710.2 L750.1,705.9 L754.2,701.6 L758.2,700.4 L762.3,699.9 L766.3,702.9 L770.3,701.2 L774.4,700.1 L778.4,694.8 L782.5,689.3 L786.5,687.1 L790.5,692.3 L794.6,700.8 L798.6,701.6 L802.7,693.4 L806.7,676.7 L810.7,671.7 L814.8,676.8 L818.8,691.8 L822.9,703.9 L826.9,709.7 L830.9,709.1 L835.0,702.4 L839.0,696.8 L843.1,688.1 L847.1,682.5 L851.1,676.2 L855.2,677.0 L859.2,676.5 L863.3,672.0 L867.3,665.4 L871.3,661.1 L875.4,660.5 L879.4,662.8 L883.5,661.7 L887.5,663.9 L891.5,664.4 L895.6,665.2 L899.6,667.0 L903.7,664.7 L907.7,667.1 L911.7,664.5 L915.8,664.4 L919.8,665.8 L923.9,674.4 L927.9,686.7 L931.9,692.8 L936.0,692.3 L940.0,692.5 L944.1,695.3 L948.1,702.1 L952.1,698.4 L956.2,697.8 L960.2,699.1 L964.3,706.5 L968.3,709.5 L972.3,707.6 L976.4,703.5 L980.4,702.1 L984.5,703.3 L988.5,707.8 L992.5,703.1 L996.6,699.3 L1000.6,698.6 L1004.7,703.3 L1008.7,706.1 L1012.7,701.6 L1016.8,695.9 L1020.8,685.9 L1024.9,675.1 L1028.9,670.1 L1032.9,670.6 L1037.0,673.8 L1041.0,678.1 L1045.1,683.7 L1049.1,693.2 L1053.1,702.1 L1057.2,704.3 L1061.2,700.5 L1065.3,688.7 L1069.3,682.5 L1073.3,684.5 L1077.4,687.9 L1081.4,693.4 L1085.5,693.1 L1089.5,702.8 L1093.5,706.6 L1097.6,712.4 L1101.6,711.0 L1105.7,708.9 L1109.7,708.1 L1113.7,706.8 L1117.8,704.1 L1121.8,700.2 L1125.9,695.7 L1129.9,692.8 L1133.9,690.9 L1138.0,685.6 L1142.0,680.9 L1146.1,672.6 L1150.1,669.0 L1154.1,669.8 L1158.2,679.1 L1162.2,686.5 L1166.3,690.8 L1170.3,684.0 L1174.3,679.7 L1178.4,670.0 L1182.4,666.9 L1186.5,661.9 L1190.5,667.8 L1194.5,673.7 L1198.6,678.3 L1202.6,676.3 L1206.7,678.5 L1210.7,685.7 L1214.7,693.1 L1218.8,695.1 L1222.8,697.8 L1226.9,700.8 L1230.9,701.1 L1234.9,699.8 L1239.0,698.8 L1243.0,698.3 L1247.1,701.8 L1251.1,703.6 L1255.1,708.4 L1259.2,704.8 L1263.2,694.7 L1267.3,688.2 L1271.3,677.9 L1275.3,673.7 L1279.4,665.9 L1283.4,665.5 L1287.5,670.9 L1291.5,682.6 L1295.5,695.4 L1299.6,702.7 L1303.6,701.2 L1307.7,704.0 L1311.7,700.0 L1315.7,697.3 L1319.8,690.5 L1323.8,687.5 L1327.9,682.0 L1331.9,682.3 L1335.9,686.1 L1340.0,692.9 L1344.0,691.0 L1348.1,690.7 L1352.1,692.6 L1356.1,689.7 L1360.2,689.9 L1364.2,688.4" fill="none" stroke="#ff6d00" stroke-width="1" stroke-linejoin="round" opacity="0.9" clip-path="url(#cpl)"/>
<g fill="none" stroke="#d1d4dc" stroke-width="1.3" stroke-linecap="round">
<circle cx="22.2" cy="28.5" r="4.3"/><path d="M25.4,31.7 L29,35.3"/>
</g>
<text x="32.7" y="32.7" font-size="11.8" fill="#d1d4dc" font-weight="bold" text-anchor="start" textLength="42.2" lengthAdjust="spacingAndGlyphs">LCRUDE</text>
<g fill="none" stroke="#b2b5be" stroke-width="1.1"><circle cx="107.3" cy="29.9" r="8"/><path d="M103.3,29.9 h8 M107.3,25.9 v8"/></g>
<rect x="127.1" y="21.3" width="1" height="17.3" fill="#363a45"/>
<rect x="166.1" y="21.3" width="1" height="17.3" fill="#363a45"/>
<rect x="205.0" y="21.3" width="1" height="17.3" fill="#363a45"/>
<rect x="300.1" y="21.3" width="1" height="17.3" fill="#363a45"/>
<text x="143.8" y="33.9" font-size="12.5" fill="#d1d4dc" font-weight="bold" text-anchor="start" textLength="7.4" lengthAdjust="spacingAndGlyphs">D</text>
<g fill="none" stroke="#b2b5be" stroke-width="1.1"><rect x="180.9" y="24" width="3" height="10.4"/><path d="M182.4,21.6 v2.4 M182.4,34.4 v3"/><rect x="188.3" y="25.8" width="3.2" height="7"/><path d="M189.9,23 v2.8 M189.9,32.8 v2.8"/></g>
<g fill="none" stroke="#b2b5be" stroke-width="1.1" stroke-linecap="round"><path d="M227.2,23.2 c-2.6,-1.2 -3.6,0.4 -3.9,2.4 l-1.2,8.2 c-0.3,2 -1.4,3 -3.2,2.2 M220.6,27.6 h5.4"/><path d="M225.8,33.2 l3.8,3.8 M229.6,33.2 l-3.8,3.8"/></g>
<text x="238.4" y="33.9" font-size="12.5" fill="#d1d4dc" font-weight="bold" text-anchor="start" textLength="49.6" lengthAdjust="spacingAndGlyphs">Indicatori</text>
<path d="M316.9,25.6 L313.5,29 L316.9,32.4 M313.5,29 H321 C323.6,29 325,30.8 325,33.6" fill="none" stroke="#b2b5be" stroke-width="1.2" stroke-linecap="round" stroke-linejoin="round"/>
<path d="M353.7,25.6 L357.1,29 L353.7,32.4 M357.1,29 H349.6 C347,29 345.6,30.8 345.6,33.6" fill="none" stroke="#4c505c" stroke-width="1.2" stroke-linecap="round" stroke-linejoin="round"/>
<g fill="none" stroke="#b2b5be" stroke-width="1.1"><rect x="1656.2" y="23.4" width="15.4" height="13.2" rx="1.8"/><path d="M1663.9,23.4 v13.2"/></g>
<text x="1693" y="29.4" font-size="11.5" fill="#d1d4dc" font-weight="bold" text-anchor="start" textLength="27" lengthAdjust="spacingAndGlyphs">Salva</text>
<text x="1696.6" y="39.5" font-size="8.6" fill="#2962ff" font-weight="bold" text-anchor="start" textLength="19" lengthAdjust="spacingAndGlyphs">Salva</text>
<path d="M1739.3,28.2 l3.2,2.8 l3.2,-2.8" fill="none" stroke="#b2b5be" stroke-width="1.1"/>
<rect x="1754" y="21.2" width="1" height="17.6" fill="#363a45"/>
<g fill="none" stroke="#b2b5be" stroke-width="1.1" stroke-linecap="round" stroke-linejoin="round"><path d="M1770.2,23.6 a6.4,6.4 0 1 0 8.2,8.4"/><path d="M1777.3,34.1 l3.8,3.9"/><path d="M1775.3,21.6 l-3.6,6.4 h3.4 l-1.6,5 l4.4,-7 h-3.4 z"/></g>
<g fill="none" stroke="#b2b5be" stroke-width="1.1" stroke-linejoin="round"><path d="M1813.58,28.07 L1813.58,30.93 L1811.53,30.97 L1810.77,32.79 L1812.19,34.27 L1810.17,36.29 L1808.69,34.87 L1806.87,35.63 L1806.83,37.68 L1803.97,37.68 L1803.93,35.63 L1802.11,34.87 L1800.63,36.29 L1798.61,34.27 L1800.03,32.79 L1799.27,30.97 L1797.22,30.93 L1797.22,28.07 L1799.27,28.03 L1800.03,26.21 L1798.61,24.73 L1800.63,22.71 L1802.11,24.13 L1803.93,23.37 L1803.97,21.32 L1806.83,21.32 L1806.87,23.37 L1808.69,24.13 L1810.17,22.71 L1812.19,24.73 L1810.77,26.21 L1811.53,28.03 Z"/><circle cx="1805.4" cy="29.5" r="2.5"/></g>
<g fill="none" stroke="#b2b5be" stroke-width="1.1" stroke-linejoin="round"><path d="M1830.2,24.6 h2.6 l1.4,-2.2 h5.8 l1.4,2.2 h2.6 a1.8,1.8 0 0 1 1.8,1.8 v8.4 a1.8,1.8 0 0 1 -1.8,1.8 h-13.8 a1.8,1.8 0 0 1 -1.8,-1.8 v-8.4 a1.8,1.8 0 0 1 1.8,-1.8 z"/><circle cx="1837.1" cy="30.3" r="3.5"/></g>
<g fill="none" stroke="#8d919c" stroke-width="1.1" stroke-linejoin="round"><rect x="1875.2" y="35.6" width="22.6" height="16.2" rx="1.6"/><path d="M1875.6,36.4 l10.9,9.4 l10.9,-9.4"/></g>
<rect x="1884.2" y="44.2" width="21.3" height="16.2" rx="8.1" fill="#131722"/>
<rect x="1885" y="45" width="19.8" height="14.7" rx="7.3" fill="#ef5350"/>
<text x="1889.6" y="56.2" font-size="10.5" fill="#ffffff" font-weight="bold" text-anchor="start" textLength="10.8" lengthAdjust="spacingAndGlyphs">51</text>
<g fill="none" stroke="#8d919c" stroke-width="1.1" stroke-linejoin="round"><path d="M1880,87.8 h15.6 a2.2,2.2 0 0 1 2.2,2.2 v15.2 a2.4,2.4 0 0 1 -2.4,2.4 h-17.4 a2.6,2.6 0 0 1 -2.6,-2.6 v-11.6 a1.6,1.6 0 0 1 1.6,-1.6 h1"/><path d="M1878,87.8 v17.4 a2.4,2.4 0 0 1 -2.4,0"/><rect x="1881.4" y="91" width="5.4" height="4.8"/><path d="M1889.4,91.4 h5.2 M1889.4,95.4 h5.2 M1881.4,99.4 h13.2 M1881.4,103.2 h13.2"/></g>
<path d="M24.9,60.5 L25.2,70.7 L28.5,68.9 L31.5,73.9 L33.7,72.7 L31.5,67.4 L34.4,65.6 Z" fill="none" stroke="#2a4cc4" stroke-width="1.1" stroke-linejoin="round"/>
<g fill="none" stroke="#b2b5be" stroke-width="1.1">
<path d="M22.2,97 H29 M32.6,97 H40.2"/><circle cx="30.8" cy="97" r="1.8"/>
<path d="M21.2,118.7 H40.2 M21.2,123.7 H37.6 M21.2,128.7 H40.2 M23.8,133.6 H40.2"/><circle cx="39.4" cy="123.7" r="1.8"/><circle cx="22" cy="133.6" r="1.8"/>
<path d="M25.4,150.8 L23.6,162.2 M26.9,150.2 L37.6,159.8 M35.2,151 L24.3,162.6 M36.2,151.6 L38.4,159.2"/><circle cx="25.8" cy="149.1" r="1.7"/><circle cx="35.9" cy="149.9" r="1.7"/><circle cx="38.7" cy="160.9" r="1.7"/><circle cx="23.2" cy="163.9" r="1.7"/>
<path d="M24.4,180.3 H38.7 M24.4,188.7 H36.2 M24.4,193.4 H38.7"/><path d="M26,186.4 L37.3,182.2" stroke-dasharray="1.4 1.6"/><circle cx="22.6" cy="180.3" r="1.7"/><circle cx="22.6" cy="188.7" r="1.7"/><circle cx="38" cy="188.7" r="1.7"/><circle cx="22.6" cy="193.4" r="1.7"/>
<path d="M24.6,222.7 L33,214"/><circle cx="23.4" cy="223.9" r="1.7"/><circle cx="38" cy="209.2" r="1.7"/>
</g>
<path d="M36.6,210.6 L30.2,213.2 L34,217 Z" fill="#b2b5be"/>
<text x="31.3" y="254" font-size="20" fill="#b2b5be" font-weight="normal" text-anchor="middle" font-family="'Liberation Serif', serif">T</text>
<g fill="none" stroke="#b2b5be" stroke-width="1.1" stroke-linecap="round"><circle cx="30.8" cy="276.6" r="8.8"/><path d="M27.4,279.2 q3.4,3.2 6.8,0"/></g><circle cx="28" cy="275" r="0.9" fill="#b2b5be"/><circle cx="33.7" cy="275" r="0.9" fill="#b2b5be"/>
<rect x="16.3" y="296.8" width="29.7" height="1" fill="#363a45"/>
<rect x="16.3" y="367.0" width="29.7" height="1" fill="#363a45"/>
<rect x="16.3" y="528.4" width="29.7" height="1" fill="#363a45"/>
<g transform="translate(30.7,318) rotate(-37)" fill="none" stroke="#b2b5be" stroke-width="1.1"><rect x="-11" y="-3.6" width="22" height="7.2" rx="1"/><path d="M-7,-3.6 v2.6 M-3.5,-3.6 v3.6 M0,-3.6 v2.6 M3.5,-3.6 v3.6 M7,-3.6 v2.6"/></g>
<g fill="none" stroke="#b2b5be" stroke-width="1.1" stroke-linecap="round"><circle cx="28.8" cy="346.8" r="6.3"/><path d="M33.4,351.4 L37.4,355.2 M25.6,346.8 h6.4 M28.8,343.6 v6.4"/></g>
<g fill="none" stroke="#b2b5be" stroke-width="1.1" stroke-linejoin="round"><path d="M23.8,394.8 V387 a6.9,6.9 0 0 1 13.8,0 V394.8 H33.6 V387.2 a2.9,2.9 0 0 0 -5.8,0 V394.8 Z"/><path d="M23.8,391.6 h4 M33.6,391.6 h4"/></g>
<rect x="18.2" y="406.2" width="24.9" height="24.5" rx="3" fill="#2962ff"/>
<g fill="none" stroke="#dfe6ff" stroke-width="1.1" stroke-linejoin="round"><path d="M21.8,420.6 L22.6,416.4 L30.4,409.6 a1.6,1.6 0 0 1 2.2,0.2 l1.2,1.4 a1.6,1.6 0 0 1 -0.2,2.2 L26,420 Z M28.6,411.2 l3.2,3.6 M24,414.8 l3,3.4"/><rect x="32.6" y="421.8" width="6.6" height="5.2" rx="0.8"/><path d="M34,421.8 v-1.4 a1.9,1.9 0 0 1 3.8,0 v1.4"/></g>
<rect x="4.2" y="413.8" width="8.3" height="26.9" rx="2.5" fill="#131722" stroke="#2a2e39" stroke-width="1"/>
<path d="M6.9,423.6 l3.2,4 l-3.2,4" fill="none" stroke="#b2b5be" stroke-width="1.1"/>
<g fill="none" stroke="#b2b5be" stroke-width="1.1" stroke-linejoin="round"><rect x="24.8" y="446" width="12.1" height="9.5" rx="1.4"/><path d="M27.2,446 v-2.4 a3.4,3.4 0 0 1 6.6,-1"/></g><rect x="30.2" y="449" width="1.4" height="3.2" fill="#b2b5be"/>
<g fill="none" stroke="#b2b5be" stroke-width="1.1" stroke-linejoin="round"><path d="M22.3,474.4 q7.5,-10.6 15,0 q-7.5,10.6 -15,0 z"/><circle cx="29.8" cy="474.4" r="2.8"/><path d="M33.4,485.4 l2.6,-2.6 l1.6,1.4 l-2.4,2 z M37,483.2 l2.2,-1.8"/></g>
<rect x="18.1" y="495.9" width="24.6" height="24.6" rx="3" fill="#2962ff"/>
<g transform="translate(30.4,508.2) rotate(-38)" fill="none" stroke="#dfe6ff" stroke-width="1.1"><rect x="-9.4" y="-2.7" width="10.6" height="5.4" rx="2.7"/><rect x="-1.2" y="-2.7" width="10.6" height="5.4" rx="2.7"/></g>
<g fill="none" stroke="#b2b5be" stroke-width="1.1" stroke-linejoin="round"><path d="M23.6,543.6 h14 M27.6,543.6 v-1.6 a1.2,1.2 0 0 1 1.2,-1.2 h3.6 a1.2,1.2 0 0 1 1.2,1.2 v1.6 M25.2,543.6 v11.2 a1.6,1.6 0 0 0 1.6,1.6 h7.6 a1.6,1.6 0 0 0 1.6,-1.6 v-11.2 M28.8,546.6 v6.6 M32.4,546.6 v6.6"/></g>
<rect x="50" y="711" width="6.4" height="20.6" rx="2" fill="#131722" stroke="#2a2e39" stroke-width="0.8"/>
<path d="M54.2,719.4 l-1.8,2.4 l1.8,2.4" fill="none" stroke="#868993" stroke-width="0.9"/>
<text x="69.9" y="767.1" font-size="10.6" fill="#d1d4dc" font-weight="bold" text-anchor="start" textLength="51.1" lengthAdjust="spacingAndGlyphs">Powered by</text>
<text x="123.5" y="767.1" font-size="10.6" fill="#3d8bf2" font-weight="normal" text-anchor="start" textLength="53.7" lengthAdjust="spacingAndGlyphs" text-decoration="underline">TradingView</text>
<rect x="188.1" y="748" width="1" height="33" fill="#2a2e39"/>
<text x="200.8" y="767.8" font-size="12" fill="#d1d4dc" font-weight="normal" text-anchor="start" textLength="12.9" lengthAdjust="spacingAndGlyphs" stroke="#d1d4dc" stroke-width="0.3">1D</text>
<text x="223.7" y="767.8" font-size="12" fill="#d1d4dc" font-weight="normal" text-anchor="start" textLength="13.2" lengthAdjust="spacingAndGlyphs" stroke="#d1d4dc" stroke-width="0.3">5D</text>
<text x="247.7" y="767.8" font-size="12" fill="#d1d4dc" font-weight="normal" text-anchor="start" textLength="13.6" lengthAdjust="spacingAndGlyphs" stroke="#d1d4dc" stroke-width="0.3">1M</text>
<text x="271.7" y="767.8" font-size="12" fill="#d1d4dc" font-weight="normal" text-anchor="start" textLength="14.2" lengthAdjust="spacingAndGlyphs" stroke="#d1d4dc" stroke-width="0.3">3M</text>
<text x="296" y="767.8" font-size="12" fill="#d1d4dc" font-weight="normal" text-anchor="start" textLength="14.4" lengthAdjust="spacingAndGlyphs" stroke="#d1d4dc" stroke-width="0.3">6M</text>
<text x="320.8" y="767.8" font-size="12" fill="#d1d4dc" font-weight="normal" text-anchor="start" textLength="12.1" lengthAdjust="spacingAndGlyphs" stroke="#d1d4dc" stroke-width="0.3">1Y</text>
<text x="343.1" y="767.8" font-size="12" fill="#d1d4dc" font-weight="normal" text-anchor="start" textLength="12.6" lengthAdjust="spacingAndGlyphs" stroke="#d1d4dc" stroke-width="0.3">5Y</text>
<text x="365.7" y="767.8" font-size="12" fill="#d1d4dc" font-weight="normal" text-anchor="start" textLength="13.1" lengthAdjust="spacingAndGlyphs" stroke="#d1d4dc" stroke-width="0.3">All</text>
<rect x="387.7" y="755.7" width="1" height="17.7" fill="#363a45"/>
<g fill="none" stroke="#b2b5be" stroke-width="1.1" stroke-linejoin="round" stroke-linecap="round"><path d="M399.8,765 v-4.6 a1.6,1.6 0 0 1 1.6,-1.6 h11.8 a1.6,1.6 0 0 1 1.6,1.6 v9 a1.6,1.6 0 0 1 -1.6,1.6 h-4.6 M399.8,762.2 h15 M403.6,757.2 v3 M411,757.2 v3 M399.6,768.6 h5.6 M403.2,766.2 l2.4,2.4 l-2.4,2.4"/></g>
<text x="1641" y="767.8" font-size="12" fill="#d1d4dc" font-weight="normal" text-anchor="start" textLength="91.4" lengthAdjust="spacingAndGlyphs" stroke="#d1d4dc" stroke-width="0.3">07:37:58 (UTC+1)</text>
<rect x="1740.2" y="755.7" width="1" height="17.7" fill="#363a45"/>
<text x="1750.6" y="767.8" font-size="12" fill="#d1d4dc" font-weight="normal" text-anchor="start" textLength="10.6" lengthAdjust="spacingAndGlyphs" stroke="#d1d4dc" stroke-width="0.3">%</text>
<text x="1771.4" y="767.8" font-size="12" fill="#d1d4dc" font-weight="normal" text-anchor="start" textLength="15.6" lengthAdjust="spacingAndGlyphs" stroke="#d1d4dc" stroke-width="0.3">log</text>
<text x="1796.8" y="767.8" font-size="12" fill="#3a5ff0" font-weight="normal" text-anchor="start" textLength="23.6" lengthAdjust="spacingAndGlyphs" stroke="#3a5ff0" stroke-width="0.3">auto</text>
<path d="M1831.4,765.6 h4.4 v5.4 M1844.2,762.6 h-4.4 v-5.4" fill="none" stroke="#2a4bc0" stroke-width="1"/>
<rect x="951" y="776.8" width="26.7" height="7.4" rx="2.2" fill="#131722"/>
<path d="M959.8,782.6 l4.6,-3.4 l4.6,3.4" fill="none" stroke="#d1d4dc" stroke-width="1.3"/>
<path d="M23.4,804 H32 L40.1,812 V826.3 a2.5,2.5 0 0 1 -2.5,2.5 H23.4 a2.5,2.5 0 0 1 -2.5,-2.5 V806.5 a2.5,2.5 0 0 1 2.5,-2.5 z" fill="#2179e0"/>
<path d="M32.2,804.4 V811.8 H39.6 Z" fill="#ffffff"/>
<circle cx="42" cy="821.7" r="8.1" fill="#131722"/><circle cx="42" cy="821.7" r="7" fill="#ffffff"/>
<path d="M38.2,821.7 h7.6 M42,817.9 v7.6" stroke="#131722" stroke-width="1.7" fill="none"/>
<text x="57.6" y="819.7" font-size="15.5" fill="#d1d4dc" font-weight="normal" text-anchor="start" textLength="89.4" lengthAdjust="spacingAndGlyphs">Nuovo Ordine</text>
<text x="761.4" y="825.2" font-size="17.5" fill="#2f7de1" font-weight="normal" text-anchor="start" textLength="63.6" lengthAdjust="spacingAndGlyphs">Posizioni</text>
<text x="830.4" y="817.5" font-size="13.5" fill="#2f7de1" font-weight="normal" text-anchor="start" textLength="14.3" lengthAdjust="spacingAndGlyphs">22</text>
<text x="906.2" y="825.2" font-size="17.5" fill="#e0e3eb" font-weight="normal" text-anchor="start" textLength="45.1" lengthAdjust="spacingAndGlyphs">Ordini</text>
<text x="1011.7" y="825.2" font-size="17.5" fill="#e0e3eb" font-weight="normal" text-anchor="start" textLength="43.5" lengthAdjust="spacingAndGlyphs">Avvisi</text>
<text x="1116" y="825.2" font-size="17.5" fill="#e0e3eb" font-weight="normal" text-anchor="start" textLength="51" lengthAdjust="spacingAndGlyphs">Storico</text>
</svg>
</div>
</body>
</html>
